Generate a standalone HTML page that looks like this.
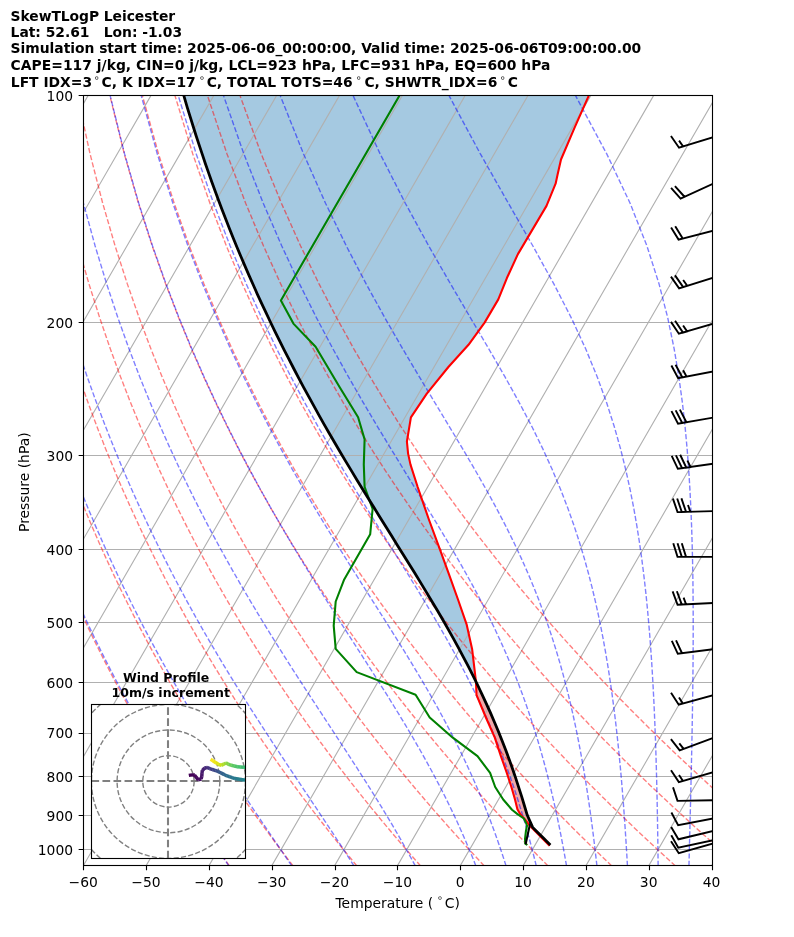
<!DOCTYPE html>
<html><head><meta charset="utf-8"><title>SkewTLogP Leicester</title>
<style>html,body{margin:0;padding:0;background:#fff}svg{display:block;will-change:transform}</style></head>
<body>
<svg width="794" height="937" viewBox="0 0 794 937" style="display:block">
<rect width="794" height="937" fill="#fff"/>
<defs><clipPath id="ax"><rect x="83.5" y="95.5" width="629.0" height="770.0"/></clipPath><clipPath id="in"><rect x="91.5" y="704.5" width="154" height="154"/></clipPath></defs>
<g clip-path="url(#ax)">
<path d="M183.6 95.0 L183.8 95.5 L183.9 96.0 L184.1 96.5 L184.2 97.0 L184.4 97.5 L184.5 98.0 L184.7 98.5 L184.8 99.0 L185.0 99.5 L185.1 100.0 L185.2 100.5 L185.4 101.0 L185.5 101.5 L185.7 102.0 L185.8 102.5 L186.0 103.0 L186.1 103.5 L186.3 104.0 L186.4 104.5 L186.6 105.0 L186.7 105.5 L186.9 106.0 L187.0 106.5 L187.2 107.0 L187.3 107.5 L187.5 108.0 L187.6 108.5 L187.8 109.0 L187.9 109.5 L188.1 110.0 L188.2 110.5 L188.4 111.0 L188.5 111.5 L188.7 112.0 L188.8 112.5 L189.0 113.0 L189.1 113.5 L189.3 114.0 L189.4 114.5 L189.6 115.0 L189.8 115.5 L189.9 116.0 L190.1 116.5 L190.2 117.0 L190.4 117.5 L190.5 118.0 L190.7 118.5 L190.8 119.0 L191.0 119.5 L191.1 120.0 L191.3 120.5 L191.4 121.0 L191.6 121.5 L191.8 122.0 L191.9 122.5 L192.1 123.0 L192.2 123.5 L192.4 124.0 L192.5 124.5 L192.7 125.0 L192.8 125.5 L193.0 126.0 L193.2 126.5 L193.3 127.0 L193.5 127.5 L193.6 128.0 L193.8 128.5 L194.0 129.0 L194.1 129.5 L194.3 130.0 L194.4 130.5 L194.6 131.0 L194.7 131.5 L194.9 132.0 L195.1 132.5 L195.2 133.0 L195.4 133.5 L195.5 134.0 L195.7 134.5 L195.9 135.0 L196.0 135.5 L196.2 136.0 L196.3 136.5 L196.5 137.0 L196.7 137.5 L196.8 138.0 L197.0 138.5 L197.2 139.0 L197.3 139.5 L197.5 140.0 L197.6 140.5 L197.8 141.0 L198.0 141.5 L198.1 142.0 L198.3 142.5 L198.5 143.0 L198.6 143.5 L198.8 144.0 L198.9 144.5 L199.1 145.0 L199.3 145.5 L199.4 146.0 L199.6 146.5 L199.8 147.0 L199.9 147.5 L200.1 148.0 L200.3 148.5 L200.4 149.0 L200.6 149.5 L200.8 150.0 L200.9 150.5 L201.1 151.0 L201.3 151.5 L201.4 152.0 L201.6 152.5 L201.8 153.0 L201.9 153.5 L202.1 154.0 L202.3 154.5 L202.4 155.0 L202.6 155.5 L202.8 156.0 L203.0 156.5 L203.1 157.0 L203.3 157.5 L203.5 158.0 L203.6 158.5 L203.8 159.0 L204.0 159.5 L204.1 160.0 L204.3 160.5 L204.5 161.0 L204.7 161.5 L204.8 162.0 L205.0 162.5 L205.2 163.0 L205.3 163.5 L205.5 164.0 L205.7 164.5 L205.9 165.0 L206.0 165.5 L206.2 166.0 L206.4 166.5 L206.5 167.0 L206.7 167.5 L206.9 168.0 L207.1 168.5 L207.2 169.0 L207.4 169.5 L207.6 169.9 L207.8 170.4 L207.9 170.9 L208.1 171.4 L208.3 171.9 L208.5 172.4 L208.6 172.9 L208.8 173.4 L209.0 173.9 L209.2 174.4 L209.3 174.9 L209.5 175.4 L209.7 175.9 L209.9 176.4 L210.1 176.9 L210.2 177.4 L210.4 177.9 L210.6 178.4 L210.8 178.9 L210.9 179.4 L211.1 179.9 L211.3 180.4 L211.5 180.9 L211.7 181.4 L211.8 181.9 L212.0 182.4 L212.2 182.9 L212.4 183.4 L212.6 183.9 L212.7 184.4 L212.9 184.9 L213.1 185.4 L213.3 185.9 L213.5 186.4 L213.6 186.9 L213.8 187.4 L214.0 187.9 L214.2 188.4 L214.4 188.9 L214.5 189.4 L214.7 189.9 L214.9 190.4 L215.1 190.9 L215.3 191.4 L215.5 191.9 L215.6 192.4 L215.8 192.9 L216.0 193.4 L216.2 193.9 L216.4 194.4 L216.6 194.9 L216.8 195.4 L216.9 195.9 L217.1 196.4 L217.3 196.9 L217.5 197.4 L217.7 197.9 L217.9 198.4 L218.0 198.9 L218.2 199.4 L218.4 199.9 L218.6 200.4 L218.8 200.9 L219.0 201.4 L219.2 201.9 L219.4 202.4 L219.5 202.9 L219.7 203.4 L219.9 203.9 L220.1 204.4 L220.3 204.9 L220.5 205.4 L220.7 205.9 L220.9 206.4 L221.1 206.9 L221.2 207.4 L221.4 207.9 L221.6 208.4 L221.8 208.9 L222.0 209.4 L222.2 209.9 L222.4 210.4 L222.6 210.9 L222.8 211.4 L223.0 211.9 L223.2 212.4 L223.3 212.9 L223.5 213.4 L223.7 213.9 L223.9 214.4 L224.1 214.9 L224.3 215.4 L224.5 215.9 L224.7 216.4 L224.9 216.9 L225.1 217.4 L225.3 217.9 L225.5 218.4 L225.7 218.9 L225.9 219.4 L226.1 219.9 L226.2 220.4 L226.4 220.9 L226.6 221.4 L226.8 221.9 L227.0 222.4 L227.2 222.9 L227.4 223.4 L227.6 223.9 L227.8 224.4 L228.0 224.9 L228.2 225.4 L228.4 225.9 L228.6 226.4 L228.8 226.9 L229.0 227.4 L229.2 227.9 L229.4 228.4 L229.6 228.9 L229.8 229.4 L230.0 229.9 L230.2 230.4 L230.4 230.9 L230.6 231.4 L230.8 231.9 L231.0 232.4 L231.2 232.9 L231.4 233.4 L231.6 233.9 L231.8 234.4 L232.0 234.9 L232.2 235.4 L232.4 235.9 L232.6 236.4 L232.8 236.9 L233.0 237.4 L233.2 237.9 L233.4 238.4 L233.6 238.9 L233.8 239.4 L234.0 239.9 L234.2 240.4 L234.4 240.9 L234.6 241.4 L234.8 241.9 L235.1 242.4 L235.3 242.9 L235.5 243.4 L235.7 243.9 L235.9 244.4 L236.1 244.9 L236.3 245.4 L236.5 245.9 L236.7 246.4 L236.9 246.9 L237.1 247.4 L237.3 247.9 L237.5 248.4 L237.7 248.9 L237.9 249.4 L238.1 249.9 L238.4 250.4 L238.6 250.9 L238.8 251.4 L239.0 251.9 L239.2 252.4 L239.4 252.9 L239.6 253.4 L239.8 253.9 L240.0 254.4 L240.2 254.9 L240.4 255.4 L240.6 255.9 L240.9 256.4 L241.1 256.9 L241.3 257.4 L241.5 257.9 L241.7 258.4 L241.9 258.9 L242.1 259.4 L242.3 259.9 L242.6 260.4 L242.8 260.9 L243.0 261.4 L243.2 261.9 L243.4 262.4 L243.6 262.9 L243.8 263.4 L244.0 263.9 L244.3 264.4 L244.5 264.9 L244.7 265.4 L244.9 265.9 L245.1 266.4 L245.3 266.9 L245.5 267.4 L245.8 267.9 L246.0 268.4 L246.2 268.9 L246.4 269.4 L246.6 269.9 L246.8 270.4 L247.1 270.9 L247.3 271.4 L247.5 271.9 L247.7 272.4 L247.9 272.9 L248.1 273.4 L248.4 273.9 L248.6 274.4 L248.8 274.9 L249.0 275.4 L249.2 275.9 L249.5 276.4 L249.7 276.9 L249.9 277.4 L250.1 277.9 L250.3 278.4 L250.6 278.9 L250.8 279.4 L251.0 279.9 L251.2 280.4 L251.4 280.9 L251.7 281.4 L251.9 281.9 L252.1 282.4 L252.3 282.9 L252.5 283.4 L252.8 283.9 L253.0 284.4 L253.2 284.9 L253.4 285.4 L253.7 285.9 L253.9 286.4 L254.1 286.9 L254.3 287.4 L254.6 287.9 L254.8 288.4 L255.0 288.9 L255.2 289.4 L255.5 289.9 L255.7 290.4 L255.9 290.9 L256.1 291.4 L256.4 291.9 L256.6 292.4 L256.8 292.9 L257.0 293.4 L257.3 293.9 L257.5 294.4 L257.7 294.9 L258.0 295.4 L258.2 295.9 L258.4 296.4 L258.6 296.9 L258.9 297.4 L259.1 297.9 L259.3 298.4 L259.6 298.9 L259.8 299.4 L260.0 299.9 L260.2 300.4 L260.5 300.9 L260.7 301.4 L260.9 301.9 L261.2 302.4 L261.4 302.9 L261.6 303.4 L261.9 303.9 L262.1 304.4 L262.3 304.9 L262.6 305.4 L262.8 305.9 L263.0 306.4 L263.3 306.9 L263.5 307.4 L263.7 307.9 L264.0 308.4 L264.2 308.9 L264.4 309.4 L264.7 309.9 L264.9 310.4 L265.1 310.9 L265.3 311.4 L265.6 311.9 L265.8 312.4 L266.1 312.9 L266.3 313.4 L266.5 313.9 L266.8 314.4 L267.0 314.9 L267.2 315.4 L267.5 315.9 L267.7 316.4 L268.0 316.9 L268.2 317.4 L268.4 317.9 L268.7 318.4 L268.9 318.9 L269.1 319.4 L269.4 319.8 L269.6 320.3 L269.9 320.8 L270.1 321.3 L270.3 321.8 L270.6 322.3 L270.8 322.8 L271.0 323.3 L271.3 323.8 L271.5 324.3 L271.8 324.8 L272.0 325.3 L272.3 325.8 L272.5 326.3 L272.7 326.8 L273.0 327.3 L273.2 327.8 L273.5 328.3 L273.7 328.8 L273.9 329.3 L274.2 329.8 L274.4 330.3 L274.7 330.8 L274.9 331.3 L275.2 331.8 L275.4 332.3 L275.7 332.8 L275.9 333.3 L276.1 333.8 L276.4 334.3 L276.6 334.8 L276.9 335.3 L277.1 335.8 L277.4 336.3 L277.6 336.8 L277.9 337.3 L278.1 337.8 L278.4 338.3 L278.6 338.8 L278.9 339.3 L279.1 339.8 L279.3 340.3 L279.6 340.8 L279.8 341.3 L280.1 341.8 L280.3 342.3 L280.6 342.8 L280.8 343.3 L281.1 343.8 L281.3 344.3 L281.6 344.8 L281.8 345.3 L282.1 345.8 L282.3 346.3 L282.6 346.8 L282.8 347.3 L283.1 347.8 L283.3 348.3 L283.6 348.8 L283.8 349.3 L284.1 349.8 L284.3 350.3 L284.6 350.8 L284.9 351.3 L285.1 351.8 L285.4 352.3 L285.6 352.8 L285.9 353.3 L286.1 353.8 L286.4 354.3 L286.6 354.8 L286.9 355.3 L287.1 355.8 L287.4 356.3 L287.6 356.8 L287.9 357.3 L288.2 357.8 L288.4 358.3 L288.7 358.8 L288.9 359.3 L289.2 359.8 L289.4 360.3 L289.7 360.8 L290.0 361.3 L290.2 361.8 L290.5 362.3 L290.7 362.8 L291.0 363.3 L291.2 363.8 L291.5 364.3 L291.8 364.8 L292.0 365.3 L292.3 365.8 L292.5 366.3 L292.8 366.8 L293.1 367.3 L293.3 367.8 L293.6 368.3 L293.8 368.8 L294.1 369.3 L294.4 369.8 L294.6 370.3 L294.9 370.8 L295.1 371.3 L295.4 371.8 L295.7 372.3 L295.9 372.8 L296.2 373.3 L296.5 373.8 L296.7 374.3 L297.0 374.8 L297.2 375.3 L297.5 375.8 L297.8 376.3 L298.0 376.8 L298.3 377.3 L298.6 377.8 L298.8 378.3 L299.1 378.8 L299.4 379.3 L299.6 379.8 L299.9 380.3 L300.2 380.8 L300.4 381.3 L300.7 381.8 L301.0 382.3 L301.2 382.8 L301.5 383.3 L301.8 383.8 L302.0 384.3 L302.3 384.8 L302.6 385.3 L302.8 385.8 L303.1 386.3 L303.4 386.8 L303.6 387.3 L303.9 387.8 L304.2 388.3 L304.4 388.8 L304.7 389.3 L305.0 389.8 L305.2 390.3 L305.5 390.8 L305.8 391.3 L306.1 391.8 L306.3 392.3 L306.6 392.8 L306.9 393.3 L307.1 393.8 L307.4 394.3 L307.7 394.8 L308.0 395.3 L308.2 395.8 L308.5 396.3 L308.8 396.8 L309.0 397.3 L309.3 397.8 L309.6 398.3 L309.9 398.8 L310.1 399.3 L310.4 399.8 L310.7 400.3 L311.0 400.8 L311.2 401.3 L311.5 401.8 L311.8 402.3 L312.1 402.8 L312.3 403.3 L312.6 403.8 L312.9 404.3 L313.2 404.8 L313.4 405.3 L313.7 405.8 L314.0 406.3 L314.3 406.8 L314.6 407.3 L314.8 407.8 L315.1 408.3 L315.4 408.8 L315.7 409.3 L315.9 409.8 L316.2 410.3 L316.5 410.8 L316.8 411.3 L317.1 411.8 L317.3 412.3 L317.6 412.8 L317.9 413.3 L318.2 413.8 L318.5 414.3 L318.7 414.8 L319.0 415.3 L319.3 415.8 L319.6 416.3 L319.9 416.8 L320.1 417.3 L320.4 417.8 L320.7 418.3 L321.0 418.8 L321.3 419.3 L321.6 419.8 L321.8 420.3 L322.1 420.8 L322.4 421.3 L322.7 421.8 L323.0 422.3 L323.3 422.8 L323.5 423.3 L323.8 423.8 L324.1 424.3 L324.4 424.8 L324.7 425.3 L325.0 425.8 L325.2 426.3 L325.5 426.8 L325.8 427.3 L326.1 427.8 L326.4 428.3 L326.7 428.8 L327.0 429.3 L327.2 429.8 L327.5 430.3 L327.8 430.8 L328.1 431.3 L328.4 431.8 L328.7 432.3 L329.0 432.8 L329.3 433.3 L329.5 433.8 L329.8 434.3 L330.1 434.8 L330.4 435.3 L330.7 435.8 L331.0 436.3 L331.3 436.8 L331.6 437.3 L331.9 437.8 L332.1 438.3 L332.4 438.8 L332.7 439.3 L333.0 439.8 L333.3 440.3 L333.6 440.8 L333.9 441.3 L334.2 441.8 L334.5 442.3 L334.8 442.8 L335.0 443.3 L335.3 443.8 L335.6 444.3 L335.9 444.8 L336.2 445.3 L336.5 445.8 L336.8 446.3 L337.1 446.8 L337.4 447.3 L337.7 447.8 L338.0 448.3 L338.3 448.8 L338.6 449.3 L338.9 449.8 L339.2 450.3 L339.5 450.8 L339.7 451.3 L340.0 451.8 L340.3 452.3 L340.6 452.8 L340.9 453.3 L341.2 453.8 L341.5 454.3 L341.8 454.8 L342.1 455.3 L342.4 455.8 L342.7 456.3 L343.0 456.8 L343.3 457.3 L343.6 457.8 L343.9 458.3 L344.2 458.8 L344.5 459.3 L344.8 459.8 L345.1 460.3 L345.4 460.8 L345.7 461.3 L346.0 461.8 L346.3 462.3 L346.6 462.8 L346.9 463.3 L347.2 463.8 L347.5 464.3 L347.8 464.8 L348.1 465.3 L348.4 465.8 L348.7 466.3 L349.0 466.8 L349.3 467.3 L349.6 467.8 L349.9 468.3 L350.2 468.8 L350.5 469.3 L350.8 469.7 L351.1 470.2 L351.4 470.7 L351.7 471.2 L352.0 471.7 L352.3 472.2 L352.6 472.7 L352.9 473.2 L353.2 473.7 L353.5 474.2 L353.8 474.7 L354.1 475.2 L354.4 475.7 L354.7 476.2 L355.0 476.7 L355.3 477.2 L355.6 477.7 L355.9 478.2 L356.2 478.7 L356.5 479.2 L356.8 479.7 L357.1 480.2 L357.4 480.7 L357.7 481.2 L358.0 481.7 L358.3 482.2 L358.6 482.7 L358.9 483.2 L359.3 483.7 L359.6 484.2 L359.9 484.7 L360.2 485.2 L360.5 485.7 L360.8 486.2 L361.1 486.7 L361.4 487.2 L361.7 487.7 L362.0 488.2 L362.3 488.7 L362.6 489.2 L362.9 489.7 L363.2 490.2 L363.5 490.7 L363.8 491.2 L364.1 491.7 L364.5 492.2 L364.8 492.7 L365.1 493.2 L365.4 493.7 L365.7 494.2 L366.0 494.7 L366.3 495.2 L366.6 495.7 L366.9 496.2 L367.2 496.7 L367.5 497.2 L367.8 497.7 L368.1 498.2 L368.5 498.7 L368.8 499.2 L369.1 499.7 L369.4 500.2 L369.7 500.7 L370.0 501.2 L370.3 501.7 L370.6 502.2 L370.9 502.7 L371.2 503.2 L371.5 503.7 L371.9 504.2 L372.2 504.7 L372.5 505.2 L372.8 505.7 L373.1 506.2 L373.4 506.7 L373.7 507.2 L374.0 507.7 L374.3 508.2 L374.6 508.7 L374.9 509.2 L375.3 509.7 L375.6 510.2 L375.9 510.7 L376.2 511.2 L376.5 511.7 L376.8 512.2 L377.1 512.7 L377.4 513.2 L377.7 513.7 L378.1 514.2 L378.4 514.7 L378.7 515.2 L379.0 515.7 L379.3 516.2 L379.6 516.7 L379.9 517.2 L380.2 517.7 L380.5 518.2 L380.9 518.7 L381.2 519.2 L381.5 519.7 L381.8 520.2 L382.1 520.7 L382.4 521.2 L382.7 521.7 L383.0 522.2 L383.4 522.7 L383.7 523.2 L384.0 523.7 L384.3 524.2 L384.6 524.7 L384.9 525.2 L385.2 525.7 L385.5 526.2 L385.8 526.7 L386.2 527.2 L386.5 527.7 L386.8 528.2 L387.1 528.7 L387.4 529.2 L387.7 529.7 L388.0 530.2 L388.3 530.7 L388.7 531.2 L389.0 531.7 L389.3 532.2 L389.6 532.7 L389.9 533.2 L390.2 533.7 L390.5 534.2 L390.8 534.7 L391.2 535.2 L391.5 535.7 L391.8 536.2 L392.1 536.7 L392.4 537.2 L392.7 537.7 L393.0 538.2 L393.3 538.7 L393.7 539.2 L394.0 539.7 L394.3 540.2 L394.6 540.7 L394.9 541.2 L395.2 541.7 L395.5 542.2 L395.8 542.7 L396.2 543.2 L396.5 543.7 L396.8 544.2 L397.1 544.7 L397.4 545.2 L397.7 545.7 L398.0 546.2 L398.3 546.7 L398.7 547.2 L399.0 547.7 L399.3 548.2 L399.6 548.7 L399.9 549.2 L400.2 549.7 L400.5 550.2 L400.8 550.7 L401.1 551.2 L401.5 551.7 L401.8 552.2 L402.1 552.7 L402.4 553.2 L402.7 553.7 L403.0 554.2 L403.3 554.7 L403.6 555.2 L404.0 555.7 L404.3 556.2 L404.6 556.7 L404.9 557.2 L405.2 557.7 L405.5 558.2 L405.8 558.7 L406.1 559.2 L406.4 559.7 L406.8 560.2 L407.1 560.7 L407.4 561.2 L407.7 561.7 L408.0 562.2 L408.3 562.7 L408.6 563.2 L408.9 563.7 L409.2 564.2 L409.5 564.7 L409.9 565.2 L410.2 565.7 L410.5 566.2 L410.8 566.7 L411.1 567.2 L411.4 567.7 L411.7 568.2 L412.0 568.7 L412.3 569.2 L412.6 569.7 L412.9 570.2 L413.3 570.7 L413.6 571.2 L413.9 571.7 L414.2 572.2 L414.5 572.7 L414.8 573.2 L415.1 573.7 L415.4 574.2 L415.7 574.7 L416.0 575.2 L416.3 575.7 L416.6 576.2 L417.0 576.7 L417.3 577.2 L417.6 577.7 L417.9 578.2 L418.2 578.7 L418.5 579.2 L418.8 579.7 L419.1 580.2 L419.4 580.7 L419.7 581.2 L420.0 581.7 L420.3 582.2 L420.6 582.7 L420.9 583.2 L421.2 583.7 L421.5 584.2 L421.8 584.7 L422.2 585.2 L422.5 585.7 L422.8 586.2 L423.1 586.7 L423.4 587.2 L423.7 587.7 L424.0 588.2 L424.3 588.7 L424.6 589.2 L424.9 589.7 L425.2 590.2 L425.5 590.7 L425.8 591.2 L426.1 591.7 L426.4 592.2 L426.7 592.7 L427.0 593.2 L427.3 593.7 L427.6 594.2 L427.9 594.7 L428.2 595.2 L428.5 595.7 L428.8 596.2 L429.1 596.7 L429.4 597.2 L429.7 597.7 L430.0 598.2 L430.3 598.7 L430.6 599.2 L430.9 599.7 L431.2 600.2 L431.5 600.7 L431.8 601.2 L432.1 601.7 L432.4 602.2 L432.7 602.7 L433.0 603.2 L433.3 603.7 L433.6 604.2 L433.9 604.7 L434.2 605.2 L434.5 605.7 L434.8 606.2 L435.1 606.7 L435.4 607.2 L435.7 607.7 L436.0 608.2 L436.3 608.7 L436.6 609.2 L436.8 609.7 L437.1 610.2 L437.4 610.7 L437.7 611.2 L438.0 611.7 L438.3 612.2 L438.6 612.7 L438.9 613.2 L439.2 613.7 L439.5 614.2 L439.8 614.7 L440.1 615.2 L440.4 615.7 L440.6 616.2 L440.9 616.7 L441.2 617.2 L441.5 617.7 L441.8 618.2 L442.1 618.7 L442.4 619.2 L442.7 619.6 L443.0 620.1 L443.3 620.6 L443.5 621.1 L443.8 621.6 L444.1 622.1 L444.4 622.6 L444.7 623.1 L445.0 623.6 L445.3 624.1 L445.5 624.6 L445.8 625.1 L446.1 625.6 L446.4 626.1 L446.7 626.6 L447.0 627.1 L447.3 627.6 L447.6 628.1 L447.8 628.6 L448.1 629.1 L448.4 629.6 L448.7 630.1 L449.0 630.6 L449.2 631.1 L449.5 631.6 L449.8 632.1 L450.1 632.6 L450.4 633.1 L450.6 633.6 L450.9 634.1 L451.2 634.6 L451.5 635.1 L451.8 635.6 L452.1 636.1 L452.3 636.6 L452.6 637.1 L452.9 637.6 L453.2 638.1 L453.5 638.6 L453.7 639.1 L454.0 639.6 L454.3 640.1 L454.5 640.6 L454.8 641.1 L455.1 641.6 L455.4 642.1 L455.6 642.6 L455.9 643.1 L456.2 643.6 L456.5 644.1 L456.7 644.6 L457.0 645.1 L457.3 645.6 L457.6 646.1 L457.8 646.6 L458.1 647.1 L458.4 647.6 L458.7 648.1 L458.9 648.6 L459.2 649.1 L459.5 649.6 L459.7 650.1 L460.0 650.6 L460.3 651.1 L460.5 651.6 L460.8 652.1 L461.1 652.6 L461.3 653.1 L461.6 653.6 L461.9 654.1 L462.1 654.6 L462.4 655.1 L462.7 655.6 L462.9 656.1 L463.2 656.6 L463.5 657.1 L463.7 657.6 L464.0 658.1 L464.3 658.6 L464.5 659.1 L464.8 659.6 L465.0 660.1 L465.3 660.6 L465.6 661.1 L465.8 661.6 L466.1 662.1 L466.3 662.6 L466.6 663.1 L466.9 663.6 L467.1 664.1 L467.4 664.6 L467.6 665.1 L467.9 665.6 L468.2 666.1 L468.4 666.6 L468.7 667.1 L468.9 667.6 L469.2 668.1 L469.4 668.6 L469.7 669.1 L469.9 669.6 L470.2 670.1 L470.4 670.6 L470.7 671.1 L471.0 671.6 L471.2 672.1 L471.5 672.6 L471.7 673.1 L472.0 673.6 L472.2 674.1 L472.5 674.6 L472.7 675.1 L473.0 675.6 L473.2 676.1 L473.5 676.6 L473.7 677.1 L474.0 677.6 L474.2 678.1 L474.5 678.6 L474.7 679.1 L475.0 679.6 L475.2 680.1 L475.4 680.6 L475.7 681.1 L475.9 681.1 L475.8 680.6 L475.8 680.1 L475.7 679.6 L475.6 679.1 L475.6 678.6 L475.5 678.1 L475.5 677.6 L475.4 677.1 L475.3 676.6 L475.3 676.1 L475.2 675.6 L475.2 675.1 L475.1 674.6 L475.1 674.1 L475.0 673.6 L474.9 673.1 L474.9 672.6 L474.8 672.1 L474.8 671.6 L474.7 671.1 L474.6 670.6 L474.6 670.1 L474.5 669.6 L474.5 669.1 L474.4 668.6 L474.4 668.1 L474.3 667.6 L474.2 667.1 L474.2 666.6 L474.1 666.1 L474.1 665.6 L474.0 665.1 L473.9 664.6 L473.9 664.1 L473.8 663.6 L473.8 663.1 L473.7 662.6 L473.7 662.1 L473.6 661.6 L473.5 661.1 L473.5 660.6 L473.4 660.1 L473.4 659.6 L473.3 659.1 L473.2 658.6 L473.2 658.1 L473.1 657.6 L473.1 657.1 L473.0 656.6 L472.9 656.1 L472.9 655.6 L472.8 655.1 L472.8 654.6 L472.7 654.1 L472.7 653.6 L472.6 653.1 L472.5 652.6 L472.5 652.1 L472.4 651.6 L472.4 651.1 L472.3 650.6 L472.2 650.1 L472.2 649.6 L472.1 649.1 L472.0 648.6 L471.9 648.1 L471.8 647.6 L471.7 647.1 L471.6 646.6 L471.5 646.1 L471.4 645.6 L471.3 645.1 L471.1 644.6 L471.0 644.1 L470.9 643.6 L470.8 643.1 L470.7 642.6 L470.6 642.1 L470.5 641.6 L470.4 641.1 L470.3 640.6 L470.1 640.1 L470.0 639.6 L469.9 639.1 L469.8 638.6 L469.7 638.1 L469.6 637.6 L469.5 637.1 L469.4 636.6 L469.3 636.1 L469.1 635.6 L469.0 635.1 L468.9 634.6 L468.8 634.1 L468.7 633.6 L468.6 633.1 L468.5 632.6 L468.4 632.1 L468.2 631.6 L468.1 631.1 L468.0 630.6 L467.9 630.1 L467.8 629.6 L467.7 629.1 L467.6 628.6 L467.5 628.1 L467.4 627.6 L467.2 627.1 L467.1 626.6 L467.0 626.1 L466.9 625.6 L466.8 625.1 L466.7 624.6 L466.5 624.1 L466.3 623.6 L466.2 623.1 L466.0 622.6 L465.8 622.1 L465.6 621.6 L465.5 621.1 L465.3 620.6 L465.1 620.1 L465.0 619.6 L464.8 619.2 L464.6 618.7 L464.4 618.2 L464.3 617.7 L464.1 617.2 L463.9 616.7 L463.7 616.2 L463.6 615.7 L463.4 615.2 L463.2 614.7 L463.1 614.2 L462.9 613.7 L462.7 613.2 L462.5 612.7 L462.4 612.2 L462.2 611.7 L462.0 611.2 L461.9 610.7 L461.7 610.2 L461.5 609.7 L461.3 609.2 L461.2 608.7 L461.0 608.2 L460.8 607.7 L460.6 607.2 L460.5 606.7 L460.3 606.2 L460.1 605.7 L460.0 605.2 L459.8 604.7 L459.6 604.2 L459.4 603.7 L459.3 603.2 L459.1 602.7 L458.9 602.2 L458.7 601.7 L458.6 601.2 L458.4 600.7 L458.2 600.2 L458.1 599.7 L457.9 599.2 L457.7 598.7 L457.5 598.2 L457.3 597.7 L457.2 597.2 L457.0 596.7 L456.8 596.2 L456.6 595.7 L456.5 595.2 L456.3 594.7 L456.1 594.2 L455.9 593.7 L455.7 593.2 L455.6 592.7 L455.4 592.2 L455.2 591.7 L455.0 591.2 L454.8 590.7 L454.7 590.2 L454.5 589.7 L454.3 589.2 L454.1 588.7 L454.0 588.2 L453.8 587.7 L453.6 587.2 L453.4 586.7 L453.2 586.2 L453.1 585.7 L452.9 585.2 L452.7 584.7 L452.5 584.2 L452.3 583.7 L452.2 583.2 L452.0 582.7 L451.8 582.2 L451.6 581.7 L451.5 581.2 L451.3 580.7 L451.1 580.2 L450.9 579.7 L450.7 579.2 L450.6 578.7 L450.4 578.2 L450.2 577.7 L450.0 577.2 L449.8 576.7 L449.7 576.2 L449.5 575.7 L449.3 575.2 L449.1 574.7 L449.0 574.2 L448.8 573.7 L448.6 573.2 L448.4 572.7 L448.2 572.2 L448.0 571.7 L447.9 571.2 L447.7 570.7 L447.5 570.2 L447.3 569.7 L447.1 569.2 L446.9 568.7 L446.8 568.2 L446.6 567.7 L446.4 567.2 L446.2 566.7 L446.0 566.2 L445.8 565.7 L445.7 565.2 L445.5 564.7 L445.3 564.2 L445.1 563.7 L444.9 563.2 L444.7 562.7 L444.6 562.2 L444.4 561.7 L444.2 561.2 L444.0 560.7 L443.8 560.2 L443.6 559.7 L443.5 559.2 L443.3 558.7 L443.1 558.2 L442.9 557.7 L442.7 557.2 L442.5 556.7 L442.4 556.2 L442.2 555.7 L442.0 555.2 L441.8 554.7 L441.6 554.2 L441.4 553.7 L441.3 553.2 L441.1 552.7 L440.9 552.2 L440.7 551.7 L440.5 551.2 L440.3 550.7 L440.2 550.2 L440.0 549.7 L439.8 549.2 L439.6 548.7 L439.4 548.2 L439.2 547.7 L439.1 547.2 L438.9 546.7 L438.7 546.2 L438.5 545.7 L438.3 545.2 L438.1 544.7 L438.0 544.2 L437.8 543.7 L437.6 543.2 L437.4 542.7 L437.2 542.2 L437.0 541.7 L436.9 541.2 L436.7 540.7 L436.5 540.2 L436.3 539.7 L436.1 539.2 L435.9 538.7 L435.8 538.2 L435.6 537.7 L435.4 537.2 L435.2 536.7 L435.0 536.2 L434.8 535.7 L434.7 535.2 L434.5 534.7 L434.3 534.2 L434.1 533.7 L433.9 533.2 L433.7 532.7 L433.6 532.2 L433.4 531.7 L433.2 531.2 L433.0 530.7 L432.8 530.2 L432.6 529.7 L432.5 529.2 L432.3 528.7 L432.1 528.2 L431.9 527.7 L431.7 527.2 L431.5 526.7 L431.4 526.2 L431.2 525.7 L431.0 525.2 L430.8 524.7 L430.6 524.2 L430.4 523.7 L430.2 523.2 L430.1 522.7 L429.9 522.2 L429.7 521.7 L429.5 521.2 L429.3 520.7 L429.1 520.2 L429.0 519.7 L428.8 519.2 L428.6 518.7 L428.4 518.2 L428.3 517.7 L428.1 517.2 L427.9 516.7 L427.7 516.2 L427.6 515.7 L427.4 515.2 L427.2 514.7 L427.1 514.2 L426.9 513.7 L426.7 513.2 L426.5 512.7 L426.4 512.2 L426.2 511.7 L426.0 511.2 L425.8 510.7 L425.7 510.2 L425.5 509.7 L425.3 509.2 L425.2 508.7 L425.0 508.2 L424.8 507.7 L424.6 507.2 L424.5 506.7 L424.3 506.2 L424.1 505.7 L424.0 505.2 L423.8 504.7 L423.6 504.2 L423.4 503.7 L423.3 503.2 L423.1 502.7 L422.9 502.2 L422.7 501.7 L422.6 501.2 L422.4 500.7 L422.2 500.2 L422.1 499.7 L421.9 499.2 L421.7 498.7 L421.5 498.2 L421.4 497.7 L421.2 497.2 L421.0 496.7 L420.9 496.2 L420.7 495.7 L420.5 495.2 L420.3 494.7 L420.2 494.2 L420.0 493.7 L419.8 493.2 L419.6 492.7 L419.5 492.2 L419.3 491.7 L419.1 491.2 L419.0 490.7 L418.8 490.2 L418.6 489.7 L418.4 489.2 L418.3 488.7 L418.1 488.2 L417.9 487.7 L417.8 487.2 L417.6 486.7 L417.4 486.2 L417.3 485.7 L417.1 485.2 L416.9 484.7 L416.8 484.2 L416.6 483.7 L416.5 483.2 L416.3 482.7 L416.1 482.2 L416.0 481.7 L415.8 481.2 L415.7 480.7 L415.5 480.2 L415.3 479.7 L415.2 479.2 L415.0 478.7 L414.9 478.2 L414.7 477.7 L414.5 477.2 L414.4 476.7 L414.2 476.2 L414.1 475.7 L413.9 475.2 L413.7 474.7 L413.6 474.2 L413.4 473.7 L413.3 473.2 L413.1 472.7 L412.9 472.2 L412.8 471.7 L412.6 471.2 L412.5 470.7 L412.3 470.2 L412.1 469.7 L412.0 469.3 L411.8 468.8 L411.7 468.3 L411.5 467.8 L411.3 467.3 L411.2 466.8 L411.0 466.3 L410.9 465.8 L410.7 465.3 L410.5 464.8 L410.4 464.3 L410.3 463.8 L410.2 463.3 L410.1 462.8 L410.0 462.3 L409.9 461.8 L409.8 461.3 L409.7 460.8 L409.6 460.3 L409.4 459.8 L409.3 459.3 L409.2 458.8 L409.1 458.3 L409.0 457.8 L408.9 457.3 L408.8 456.8 L408.7 456.3 L408.6 455.8 L408.5 455.3 L408.4 454.8 L408.2 454.3 L408.1 453.8 L408.1 453.3 L408.0 452.8 L408.0 452.3 L407.9 451.8 L407.9 451.3 L407.8 450.8 L407.8 450.3 L407.7 449.8 L407.7 449.3 L407.6 448.8 L407.6 448.3 L407.5 447.8 L407.5 447.3 L407.4 446.8 L407.4 446.3 L407.3 445.8 L407.3 445.3 L407.2 444.8 L407.2 444.3 L407.1 443.8 L407.1 443.3 L407.0 442.8 L407.0 442.3 L406.9 441.8 L406.9 441.3 L407.0 440.8 L407.1 440.3 L407.2 439.8 L407.3 439.3 L407.4 438.8 L407.4 438.3 L407.5 437.8 L407.6 437.3 L407.7 436.8 L407.8 436.3 L407.9 435.8 L408.0 435.3 L408.0 434.8 L408.1 434.3 L408.2 433.8 L408.3 433.3 L408.4 432.8 L408.4 432.3 L408.5 431.8 L408.6 431.3 L408.7 430.8 L408.8 430.3 L408.9 429.8 L408.9 429.3 L409.0 428.8 L409.1 428.3 L409.2 427.8 L409.3 427.3 L409.3 426.8 L409.4 426.3 L409.5 425.8 L409.6 425.3 L409.7 424.8 L409.8 424.3 L409.8 423.8 L409.9 423.3 L410.0 422.8 L410.1 422.3 L410.2 421.8 L410.2 421.3 L410.3 420.8 L410.4 420.3 L410.5 419.8 L410.6 419.3 L410.7 418.8 L410.7 418.3 L410.8 417.8 L410.9 417.3 L411.2 416.8 L411.6 416.3 L411.9 415.8 L412.3 415.3 L412.6 414.8 L412.9 414.3 L413.3 413.8 L413.6 413.3 L413.9 412.8 L414.3 412.3 L414.6 411.8 L414.9 411.3 L415.3 410.8 L415.6 410.3 L415.9 409.8 L416.3 409.3 L416.6 408.8 L416.9 408.3 L417.3 407.8 L417.6 407.3 L417.9 406.8 L418.3 406.3 L418.6 405.8 L419.0 405.3 L419.3 404.8 L419.6 404.3 L420.0 403.8 L420.3 403.3 L420.6 402.8 L421.0 402.3 L421.3 401.8 L421.6 401.3 L422.0 400.8 L422.3 400.3 L422.6 399.8 L423.0 399.3 L423.3 398.8 L423.6 398.3 L424.0 397.8 L424.3 397.3 L424.7 396.8 L425.0 396.3 L425.3 395.8 L425.7 395.3 L426.0 394.8 L426.3 394.3 L426.7 393.8 L427.0 393.3 L427.4 392.8 L427.9 392.3 L428.3 391.8 L428.7 391.3 L429.1 390.8 L429.5 390.3 L429.9 389.8 L430.3 389.3 L430.7 388.8 L431.1 388.3 L431.5 387.8 L431.9 387.3 L432.3 386.8 L432.7 386.3 L433.1 385.8 L433.5 385.3 L433.9 384.8 L434.3 384.3 L434.8 383.8 L435.2 383.3 L435.6 382.8 L436.0 382.3 L436.4 381.8 L436.8 381.3 L437.2 380.8 L437.6 380.3 L438.0 379.8 L438.4 379.3 L438.8 378.8 L439.2 378.3 L439.6 377.8 L440.0 377.3 L440.4 376.8 L440.8 376.3 L441.2 375.8 L441.6 375.3 L442.1 374.8 L442.5 374.3 L442.9 373.8 L443.3 373.3 L443.7 372.8 L444.1 372.3 L444.5 371.8 L444.9 371.3 L445.3 370.8 L445.7 370.3 L446.1 369.8 L446.5 369.3 L446.9 368.8 L447.3 368.3 L447.7 367.8 L448.1 367.3 L448.6 366.8 L449.0 366.3 L449.5 365.8 L449.9 365.3 L450.4 364.8 L450.8 364.3 L451.3 363.8 L451.7 363.3 L452.2 362.8 L452.6 362.3 L453.1 361.8 L453.5 361.3 L454.0 360.8 L454.4 360.3 L454.9 359.8 L455.4 359.3 L455.8 358.8 L456.3 358.3 L456.7 357.8 L457.2 357.3 L457.6 356.8 L458.1 356.3 L458.5 355.8 L459.0 355.3 L459.4 354.8 L459.9 354.3 L460.3 353.8 L460.8 353.3 L461.2 352.8 L461.7 352.3 L462.1 351.8 L462.6 351.3 L463.0 350.8 L463.5 350.3 L463.9 349.8 L464.4 349.3 L464.9 348.8 L465.3 348.3 L465.8 347.8 L466.2 347.3 L466.7 346.8 L467.1 346.3 L467.6 345.8 L468.0 345.3 L468.5 344.8 L468.8 344.3 L469.2 343.8 L469.6 343.3 L469.9 342.8 L470.3 342.3 L470.7 341.8 L471.0 341.3 L471.4 340.8 L471.7 340.3 L472.1 339.8 L472.5 339.3 L472.8 338.8 L473.2 338.3 L473.5 337.8 L473.9 337.3 L474.3 336.8 L474.6 336.3 L475.0 335.8 L475.4 335.3 L475.7 334.8 L476.1 334.3 L476.4 333.8 L476.8 333.3 L477.2 332.8 L477.5 332.3 L477.9 331.8 L478.3 331.3 L478.6 330.8 L479.0 330.3 L479.3 329.8 L479.7 329.3 L480.1 328.8 L480.4 328.3 L480.8 327.8 L481.2 327.3 L481.5 326.8 L481.9 326.3 L482.2 325.8 L482.6 325.3 L483.0 324.8 L483.3 324.3 L483.7 323.8 L484.1 323.3 L484.4 322.8 L484.7 322.3 L485.0 321.8 L485.3 321.3 L485.6 320.8 L485.9 320.3 L486.2 319.8 L486.5 319.4 L486.8 318.9 L487.1 318.4 L487.4 317.9 L487.7 317.4 L488.0 316.9 L488.3 316.4 L488.6 315.9 L488.9 315.4 L489.2 314.9 L489.5 314.4 L489.8 313.9 L490.1 313.4 L490.4 312.9 L490.6 312.4 L490.9 311.9 L491.2 311.4 L491.5 310.9 L491.8 310.4 L492.1 309.9 L492.4 309.4 L492.7 308.9 L493.0 308.4 L493.3 307.9 L493.6 307.4 L493.9 306.9 L494.2 306.4 L494.5 305.9 L494.8 305.4 L495.1 304.9 L495.4 304.4 L495.7 303.9 L496.0 303.4 L496.3 302.9 L496.6 302.4 L496.8 301.9 L497.1 301.4 L497.4 300.9 L497.7 300.4 L498.0 299.9 L498.3 299.4 L498.5 298.9 L498.7 298.4 L498.9 297.9 L499.1 297.4 L499.3 296.9 L499.5 296.4 L499.7 295.9 L499.9 295.4 L500.1 294.9 L500.3 294.4 L500.5 293.9 L500.7 293.4 L500.9 292.9 L501.1 292.4 L501.3 291.9 L501.5 291.4 L501.7 290.9 L501.9 290.4 L502.1 289.9 L502.3 289.4 L502.5 288.9 L502.7 288.4 L502.9 287.9 L503.1 287.4 L503.3 286.9 L503.5 286.4 L503.7 285.9 L504.0 285.4 L504.2 284.9 L504.4 284.4 L504.6 283.9 L504.8 283.4 L505.0 282.9 L505.2 282.4 L505.4 281.9 L505.6 281.4 L505.8 280.9 L506.0 280.4 L506.2 279.9 L506.4 279.4 L506.6 278.9 L506.8 278.4 L507.0 277.9 L507.2 277.4 L507.5 276.9 L507.7 276.4 L507.9 275.9 L508.1 275.4 L508.4 274.9 L508.6 274.4 L508.8 273.9 L509.1 273.4 L509.3 272.9 L509.5 272.4 L509.7 271.9 L510.0 271.4 L510.2 270.9 L510.4 270.4 L510.7 269.9 L510.9 269.4 L511.1 268.9 L511.3 268.4 L511.6 267.9 L511.8 267.4 L512.0 266.9 L512.3 266.4 L512.5 265.9 L512.7 265.4 L513.0 264.9 L513.2 264.4 L513.4 263.9 L513.6 263.4 L513.9 262.9 L514.1 262.4 L514.3 261.9 L514.6 261.4 L514.8 260.9 L515.0 260.4 L515.2 259.9 L515.5 259.4 L515.7 258.9 L515.9 258.4 L516.2 257.9 L516.4 257.4 L516.6 256.9 L516.8 256.4 L517.1 255.9 L517.3 255.4 L517.5 254.9 L517.8 254.4 L518.0 253.9 L518.3 253.4 L518.6 252.9 L518.9 252.4 L519.2 251.9 L519.5 251.4 L519.8 250.9 L520.1 250.4 L520.4 249.9 L520.7 249.4 L521.0 248.9 L521.3 248.4 L521.6 247.9 L521.9 247.4 L522.2 246.9 L522.5 246.4 L522.8 245.9 L523.1 245.4 L523.4 244.9 L523.7 244.4 L524.0 243.9 L524.2 243.4 L524.5 242.9 L524.8 242.4 L525.1 241.9 L525.4 241.4 L525.7 240.9 L526.0 240.4 L526.3 239.9 L526.6 239.4 L526.9 238.9 L527.2 238.4 L527.5 237.9 L527.8 237.4 L528.1 236.9 L528.4 236.4 L528.7 235.9 L529.0 235.4 L529.3 234.9 L529.6 234.4 L529.9 233.9 L530.2 233.4 L530.5 232.9 L530.8 232.4 L531.1 231.9 L531.4 231.4 L531.7 230.9 L532.0 230.4 L532.3 229.9 L532.5 229.4 L532.8 228.9 L533.1 228.4 L533.4 227.9 L533.7 227.4 L534.0 226.9 L534.3 226.4 L534.6 225.9 L534.9 225.4 L535.2 224.9 L535.5 224.4 L535.8 223.9 L536.1 223.4 L536.4 222.9 L536.7 222.4 L537.0 221.9 L537.3 221.4 L537.6 220.9 L537.9 220.4 L538.2 219.9 L538.5 219.4 L538.8 218.9 L539.1 218.4 L539.4 217.9 L539.7 217.4 L540.0 216.9 L540.3 216.4 L540.6 215.9 L540.9 215.4 L541.1 214.9 L541.4 214.4 L541.7 213.9 L542.0 213.4 L542.3 212.9 L542.6 212.4 L542.9 211.9 L543.2 211.4 L543.5 210.9 L543.8 210.4 L544.1 209.9 L544.4 209.4 L544.7 208.9 L545.0 208.4 L545.3 207.9 L545.6 207.4 L545.9 206.9 L546.2 206.4 L546.5 205.9 L546.7 205.4 L546.9 204.9 L547.1 204.4 L547.3 203.9 L547.5 203.4 L547.7 202.9 L547.9 202.4 L548.1 201.9 L548.3 201.4 L548.5 200.9 L548.7 200.4 L548.9 199.9 L549.2 199.4 L549.4 198.9 L549.6 198.4 L549.8 197.9 L550.0 197.4 L550.2 196.9 L550.4 196.4 L550.6 195.9 L550.8 195.4 L551.0 194.9 L551.2 194.4 L551.4 193.9 L551.6 193.4 L551.8 192.9 L552.0 192.4 L552.2 191.9 L552.4 191.4 L552.6 190.9 L552.8 190.4 L553.0 189.9 L553.2 189.4 L553.5 188.9 L553.7 188.4 L553.9 187.9 L554.1 187.4 L554.3 186.9 L554.5 186.4 L554.7 185.9 L554.9 185.4 L555.1 184.9 L555.3 184.4 L555.5 183.9 L555.7 183.4 L555.8 182.9 L555.9 182.4 L556.0 181.9 L556.1 181.4 L556.2 180.9 L556.3 180.4 L556.4 179.9 L556.5 179.4 L556.6 178.9 L556.8 178.4 L556.9 177.9 L557.0 177.4 L557.1 176.9 L557.2 176.4 L557.3 175.9 L557.4 175.4 L557.5 174.9 L557.6 174.4 L557.7 173.9 L557.9 173.4 L558.0 172.9 L558.1 172.4 L558.2 171.9 L558.3 171.4 L558.4 170.9 L558.5 170.4 L558.6 169.9 L558.8 169.5 L558.9 169.0 L559.0 168.5 L559.1 168.0 L559.2 167.5 L559.3 167.0 L559.4 166.5 L559.5 166.0 L559.7 165.5 L559.8 165.0 L559.9 164.5 L560.0 164.0 L560.1 163.5 L560.2 163.0 L560.3 162.5 L560.4 162.0 L560.6 161.5 L560.7 161.0 L560.8 160.5 L560.9 160.0 L561.0 159.5 L561.2 159.0 L561.4 158.5 L561.7 158.0 L561.9 157.5 L562.1 157.0 L562.3 156.5 L562.5 156.0 L562.7 155.5 L562.9 155.0 L563.1 154.5 L563.4 154.0 L563.6 153.5 L563.8 153.0 L564.0 152.5 L564.2 152.0 L564.4 151.5 L564.6 151.0 L564.8 150.5 L565.1 150.0 L565.3 149.5 L565.5 149.0 L565.7 148.5 L565.9 148.0 L566.1 147.5 L566.3 147.0 L566.5 146.5 L566.8 146.0 L567.0 145.5 L567.2 145.0 L567.4 144.5 L567.6 144.0 L567.8 143.5 L568.0 143.0 L568.2 142.5 L568.5 142.0 L568.7 141.5 L568.9 141.0 L569.1 140.5 L569.3 140.0 L569.5 139.5 L569.7 139.0 L569.9 138.5 L570.2 138.0 L570.4 137.5 L570.6 137.0 L570.8 136.5 L571.0 136.0 L571.2 135.5 L571.4 135.0 L571.6 134.5 L571.9 134.0 L572.1 133.5 L572.3 133.0 L572.5 132.5 L572.7 132.0 L572.9 131.5 L573.1 131.0 L573.3 130.5 L573.6 130.0 L573.8 129.5 L574.0 129.0 L574.2 128.5 L574.4 128.0 L574.6 127.5 L574.8 127.0 L575.1 126.5 L575.3 126.0 L575.5 125.5 L575.7 125.0 L576.0 124.5 L576.2 124.0 L576.4 123.5 L576.6 123.0 L576.8 122.5 L577.1 122.0 L577.3 121.5 L577.5 121.0 L577.7 120.5 L578.0 120.0 L578.2 119.5 L578.4 119.0 L578.6 118.5 L578.8 118.0 L579.1 117.5 L579.3 117.0 L579.5 116.5 L579.7 116.0 L580.0 115.5 L580.2 115.0 L580.4 114.5 L580.6 114.0 L580.8 113.5 L581.1 113.0 L581.3 112.5 L581.5 112.0 L581.7 111.5 L582.0 111.0 L582.2 110.5 L582.4 110.0 L582.6 109.5 L582.8 109.0 L583.1 108.5 L583.3 108.0 L583.5 107.5 L583.7 107.0 L584.0 106.5 L584.2 106.0 L584.4 105.5 L584.6 105.0 L584.8 104.5 L585.1 104.0 L585.3 103.5 L585.5 103.0 L585.7 102.5 L586.0 102.0 L586.2 101.5 L586.4 101.0 L586.6 100.5 L586.9 100.0 L587.1 99.5 L587.3 99.0 L587.5 98.5 L587.7 98.0 L588.0 97.5 L588.2 97.0 L588.4 96.5 L588.6 96.0 L588.9 95.5 L589.1 95.0 Z" fill="#1f77b4" fill-opacity="0.4"/>
<path d="M475.9 681.6 L476.2 682.1 L476.4 682.6 L476.7 683.1 L476.9 683.6 L477.2 684.1 L477.4 684.6 L477.7 685.1 L477.9 685.6 L478.1 686.1 L478.4 686.6 L478.6 687.1 L478.8 687.6 L479.1 688.1 L479.3 688.6 L479.6 689.1 L479.8 689.6 L480.0 690.1 L480.3 690.6 L480.5 691.1 L480.8 691.6 L481.0 692.1 L481.2 692.6 L481.5 693.1 L481.7 693.6 L481.9 694.1 L482.2 694.6 L482.4 695.1 L482.6 695.6 L482.9 696.1 L483.1 696.6 L483.3 697.1 L483.6 697.6 L483.8 698.1 L484.0 698.6 L484.3 699.1 L484.5 699.6 L484.7 700.1 L485.0 700.6 L485.2 701.1 L485.4 701.6 L485.6 702.1 L485.9 702.6 L486.1 703.1 L486.3 703.6 L486.6 704.1 L486.8 704.6 L487.0 705.1 L487.2 705.6 L487.5 706.1 L487.7 706.6 L487.9 707.1 L488.1 707.6 L488.3 708.1 L488.6 708.6 L488.8 709.1 L489.0 709.6 L489.2 710.1 L489.5 710.6 L489.7 711.1 L489.9 711.6 L490.1 712.1 L490.4 712.6 L490.6 713.1 L490.8 713.6 L491.0 714.1 L491.2 714.6 L491.4 715.1 L491.6 715.6 L491.9 716.1 L492.1 716.6 L492.3 717.1 L492.5 717.6 L492.7 718.1 L492.9 718.6 L493.2 719.1 L493.4 719.6 L493.6 720.1 L493.8 720.6 L494.0 721.1 L494.2 721.6 L494.4 722.1 L494.7 722.6 L494.9 723.1 L495.1 723.6 L495.3 724.1 L495.5 724.6 L495.7 725.1 L495.9 725.6 L496.1 726.1 L496.3 726.6 L496.5 727.1 L496.7 727.6 L496.9 728.1 L497.2 728.6 L497.4 729.1 L497.6 729.6 L497.8 730.1 L498.0 730.6 L498.2 731.1 L498.4 731.6 L498.6 732.1 L498.8 732.6 L499.0 733.1 L499.2 733.6 L499.4 734.1 L499.6 734.6 L499.8 735.1 L500.0 735.6 L500.2 736.1 L500.4 736.6 L500.6 737.1 L500.8 737.6 L501.0 738.1 L501.2 738.6 L501.4 739.1 L501.6 739.6 L501.8 740.1 L502.0 740.6 L502.2 741.1 L502.4 741.6 L502.6 742.1 L502.8 742.6 L503.0 743.1 L503.2 743.6 L503.4 744.1 L503.5 744.6 L503.7 745.1 L503.9 745.6 L504.1 746.1 L504.3 746.6 L504.5 747.1 L504.7 747.6 L504.9 748.1 L505.1 748.6 L505.3 749.1 L505.5 749.6 L505.7 750.1 L505.9 750.6 L506.0 751.1 L506.2 751.6 L506.4 752.1 L506.6 752.6 L506.8 753.1 L507.0 753.6 L507.2 754.1 L507.3 754.6 L507.5 755.1 L507.7 755.6 L507.9 756.1 L508.1 756.6 L508.3 757.1 L508.5 757.6 L508.6 758.1 L508.8 758.6 L509.0 759.1 L509.2 759.6 L509.4 760.1 L509.5 760.6 L509.7 761.1 L509.9 761.6 L510.1 762.1 L510.3 762.6 L510.4 763.1 L510.6 763.6 L510.8 764.1 L511.0 764.6 L511.2 765.1 L511.3 765.6 L511.5 766.1 L511.7 766.6 L511.9 767.1 L512.0 767.6 L512.2 768.1 L512.4 768.6 L512.6 769.1 L512.7 769.5 L512.9 770.0 L513.1 770.5 L513.3 771.0 L513.4 771.5 L513.6 772.0 L513.8 772.5 L514.0 773.0 L514.1 773.5 L514.3 774.0 L514.5 774.5 L514.6 775.0 L514.8 775.5 L515.0 776.0 L515.2 776.5 L515.3 777.0 L515.5 777.5 L515.7 778.0 L515.8 778.5 L516.0 779.0 L516.2 779.5 L516.3 780.0 L516.5 780.5 L516.7 781.0 L516.8 781.5 L517.0 782.0 L517.2 782.5 L517.3 783.0 L517.5 783.5 L517.6 784.0 L517.8 784.5 L518.0 785.0 L518.1 785.5 L518.3 786.0 L518.5 786.5 L518.6 787.0 L518.8 787.5 L519.0 788.0 L519.1 788.5 L519.3 789.0 L519.4 789.5 L519.6 790.0 L519.7 790.5 L519.9 791.0 L520.1 791.5 L520.2 792.0 L520.4 792.5 L520.5 793.0 L520.7 793.5 L520.9 794.0 L521.0 794.5 L521.2 795.0 L521.3 795.5 L521.5 796.0 L521.7 796.5 L521.8 797.0 L522.0 797.5 L522.1 798.0 L522.3 798.5 L522.4 799.0 L522.6 799.5 L522.7 800.0 L522.9 800.5 L523.0 801.0 L523.2 801.5 L523.3 802.0 L523.5 802.5 L523.6 803.0 L523.8 803.5 L523.9 804.0 L524.1 804.5 L524.2 805.0 L524.4 805.5 L524.5 806.0 L524.7 806.5 L524.8 807.0 L525.0 807.5 L525.1 808.0 L525.3 808.5 L525.4 809.0 L525.6 809.5 L525.7 810.0 L525.9 810.5 L526.0 811.0 L526.2 811.5 L526.3 812.0 L526.4 812.5 L526.6 813.0 L526.7 813.5 L526.9 814.0 L527.0 814.5 L527.2 815.0 L527.4 815.5 L527.6 816.0 L527.8 816.5 L528.0 817.0 L528.3 817.5 L528.5 818.0 L528.7 818.5 L528.9 819.0 L529.2 819.5 L529.4 820.0 L529.6 820.5 L529.8 821.0 L530.1 821.5 L530.3 822.0 L530.5 822.5 L530.7 823.0 L530.9 823.5 L531.2 824.0 L531.4 824.5 L531.6 825.0 L531.8 825.5 L532.1 826.0 L532.3 826.5 L532.5 827.0 L532.8 827.5 L533.3 828.0 L533.8 828.5 L534.3 829.0 L534.8 829.5 L535.3 830.0 L535.8 830.5 L536.3 831.0 L536.8 831.5 L537.3 832.0 L537.8 832.5 L538.3 833.0 L538.8 833.5 L539.3 834.0 L539.8 834.5 L540.3 835.0 L540.8 835.5 L541.3 836.0 L541.8 836.5 L542.3 837.0 L542.8 837.5 L543.3 838.0 L543.8 838.5 L544.3 839.0 L544.8 839.5 L545.3 840.0 L545.8 840.5 L546.3 841.0 L546.9 841.5 L547.4 842.0 L547.9 842.5 L548.4 843.0 L548.9 843.5 L549.4 844.0 L547.9 844.0 L547.4 843.5 L546.9 843.0 L546.4 842.5 L545.9 842.0 L545.5 841.5 L545.0 841.0 L544.5 840.5 L544.0 840.0 L543.5 839.5 L543.0 839.0 L542.5 838.5 L542.0 838.0 L541.5 837.5 L541.0 837.0 L540.5 836.5 L540.0 836.0 L539.6 835.5 L539.1 835.0 L538.6 834.5 L538.1 834.0 L537.6 833.5 L537.1 833.0 L536.6 832.5 L536.1 832.0 L535.6 831.5 L535.1 831.0 L534.6 830.5 L534.1 830.0 L533.6 829.5 L533.2 829.0 L532.7 828.5 L532.2 828.0 L531.7 827.5 L531.2 827.0 L530.7 826.5 L530.2 826.0 L529.7 825.5 L529.3 825.0 L528.9 824.5 L528.5 824.0 L528.1 823.5 L527.7 823.0 L527.4 822.5 L527.0 822.0 L526.6 821.5 L526.2 821.0 L525.8 820.5 L525.4 820.0 L525.0 819.5 L524.6 819.0 L524.2 818.5 L523.7 818.0 L523.3 817.5 L522.9 817.0 L522.4 816.5 L522.0 816.0 L521.5 815.5 L521.1 815.0 L520.7 814.5 L520.2 814.0 L519.9 813.5 L519.6 813.0 L519.3 812.5 L519.0 812.0 L518.7 811.5 L518.4 811.0 L518.1 810.5 L517.8 810.0 L517.5 809.5 L517.3 809.0 L517.2 808.5 L517.1 808.0 L517.0 807.5 L516.8 807.0 L516.7 806.5 L516.6 806.0 L516.5 805.5 L516.4 805.0 L516.2 804.5 L516.1 804.0 L516.0 803.5 L515.9 803.0 L515.7 802.5 L515.6 802.0 L515.5 801.5 L515.4 801.0 L515.3 800.5 L515.1 800.0 L515.0 799.5 L514.9 799.0 L514.7 798.5 L514.6 798.0 L514.4 797.5 L514.3 797.0 L514.1 796.5 L514.0 796.0 L513.9 795.5 L513.7 795.0 L513.6 794.5 L513.4 794.0 L513.3 793.5 L513.1 793.0 L513.0 792.5 L512.8 792.0 L512.7 791.5 L512.6 791.0 L512.4 790.5 L512.3 790.0 L512.1 789.5 L512.0 789.0 L511.8 788.5 L511.7 788.0 L511.6 787.5 L511.4 787.0 L511.2 786.5 L511.1 786.0 L510.9 785.5 L510.8 785.0 L510.6 784.5 L510.4 784.0 L510.3 783.5 L510.1 783.0 L509.9 782.5 L509.8 782.0 L509.6 781.5 L509.5 781.0 L509.3 780.5 L509.1 780.0 L509.0 779.5 L508.8 779.0 L508.6 778.5 L508.5 778.0 L508.3 777.5 L508.2 777.0 L508.0 776.5 L507.8 776.0 L507.7 775.5 L507.5 775.0 L507.3 774.5 L507.2 774.0 L507.0 773.5 L506.8 773.0 L506.7 772.5 L506.5 772.0 L506.3 771.5 L506.2 771.0 L506.0 770.5 L505.8 770.0 L505.6 769.5 L505.4 769.1 L505.3 768.6 L505.1 768.1 L504.9 767.6 L504.7 767.1 L504.6 766.6 L504.4 766.1 L504.2 765.6 L504.0 765.1 L503.9 764.6 L503.7 764.1 L503.5 763.6 L503.3 763.1 L503.2 762.6 L503.0 762.1 L502.8 761.6 L502.6 761.1 L502.5 760.6 L502.3 760.1 L502.1 759.6 L501.9 759.1 L501.8 758.6 L501.6 758.1 L501.4 757.6 L501.2 757.1 L501.1 756.6 L500.9 756.1 L500.7 755.6 L500.6 755.1 L500.4 754.6 L500.2 754.1 L500.1 753.6 L499.9 753.1 L499.7 752.6 L499.6 752.1 L499.4 751.6 L499.2 751.1 L499.1 750.6 L498.9 750.1 L498.7 749.6 L498.6 749.1 L498.4 748.6 L498.2 748.1 L498.1 747.6 L497.9 747.1 L497.7 746.6 L497.6 746.1 L497.4 745.6 L497.2 745.1 L497.1 744.6 L496.9 744.1 L496.7 743.6 L496.6 743.1 L496.4 742.6 L496.2 742.1 L496.1 741.6 L495.9 741.1 L495.8 740.6 L495.6 740.1 L495.4 739.6 L495.3 739.1 L495.1 738.6 L494.9 738.1 L494.7 737.6 L494.5 737.1 L494.3 736.6 L494.1 736.1 L493.9 735.6 L493.6 735.1 L493.4 734.6 L493.2 734.1 L493.0 733.6 L492.8 733.1 L492.5 732.6 L492.3 732.1 L492.1 731.6 L491.9 731.1 L491.7 730.6 L491.4 730.1 L491.2 729.6 L491.0 729.1 L490.8 728.6 L490.6 728.1 L490.3 727.6 L490.1 727.1 L489.9 726.6 L489.7 726.1 L489.5 725.6 L489.2 725.1 L489.0 724.6 L488.8 724.1 L488.6 723.6 L488.4 723.1 L488.1 722.6 L487.9 722.1 L487.7 721.6 L487.5 721.1 L487.3 720.6 L487.0 720.1 L486.8 719.6 L486.6 719.1 L486.4 718.6 L486.2 718.1 L485.9 717.6 L485.7 717.1 L485.5 716.6 L485.3 716.1 L485.1 715.6 L484.9 715.1 L484.7 714.6 L484.5 714.1 L484.3 713.6 L484.1 713.1 L483.9 712.6 L483.6 712.1 L483.4 711.6 L483.2 711.1 L483.0 710.6 L482.8 710.1 L482.6 709.6 L482.4 709.1 L482.2 708.6 L482.0 708.1 L481.8 707.6 L481.6 707.1 L481.4 706.6 L481.2 706.1 L480.9 705.6 L480.7 705.1 L480.5 704.6 L480.3 704.1 L480.1 703.6 L479.9 703.1 L479.7 702.6 L479.5 702.1 L479.3 701.6 L479.1 701.1 L478.9 700.6 L478.7 700.1 L478.5 699.6 L478.2 699.1 L478.0 698.6 L477.8 698.1 L477.6 697.6 L477.4 697.1 L477.2 696.6 L477.0 696.1 L476.8 695.6 L476.6 695.1 L476.5 694.6 L476.5 694.1 L476.4 693.6 L476.4 693.1 L476.4 692.6 L476.4 692.1 L476.4 691.6 L476.4 691.1 L476.3 690.6 L476.3 690.1 L476.3 689.6 L476.3 689.1 L476.3 688.6 L476.2 688.1 L476.2 687.6 L476.2 687.1 L476.2 686.6 L476.2 686.1 L476.1 685.6 L476.1 685.1 L476.1 684.6 L476.1 684.1 L476.1 683.6 L476.0 683.1 L476.0 682.6 L476.0 682.1 L475.9 681.6 Z" fill="#d62728" fill-opacity="0.4"/>
<path d="M-419.48 865.9 L25.08 95.9 M-356.64 865.9 L87.91 95.9 M-293.81 865.9 L150.75 95.9 M-230.97 865.9 L213.58 95.9 M-168.14 865.9 L276.42 95.9 M-105.30 865.9 L339.25 95.9 M-42.47 865.9 L402.09 95.9 M20.37 865.9 L464.92 95.9 M83.20 865.9 L527.76 95.9 M146.03 865.9 L590.59 95.9 M208.87 865.9 L653.43 95.9 M271.70 865.9 L716.26 95.9 M334.54 865.9 L779.10 95.9 M397.37 865.9 L841.93 95.9 M460.21 865.9 L904.77 95.9 M523.04 865.9 L967.60 95.9 M585.88 865.9 L1030.44 95.9 M648.72 865.9 L1093.27 95.9 M711.55 865.9 L1156.11 95.9 M83.5 322.50 L712.5 322.50 M83.5 455.50 L712.5 455.50 M83.5 549.50 L712.5 549.50 M83.5 622.50 L712.5 622.50 M83.5 682.50 L712.5 682.50 M83.5 733.50 L712.5 733.50 M83.5 776.50 L712.5 776.50 M83.5 815.50 L712.5 815.50 M83.5 849.50 L712.5 849.50" stroke="#b0b0b0" stroke-width="1.11" fill="none"/>
<path d="M229.44 865.90 L225.07 859.80 L220.66 853.58 L216.22 847.24 L211.73 840.77 L207.20 834.18 L202.62 827.45 L198.00 820.58 L193.34 813.56 L188.63 806.39 L183.86 799.05 L179.05 791.55 L174.19 783.88 L169.28 776.01 L164.31 767.96 L159.28 759.70 L154.20 751.23 L149.07 742.53 L143.87 733.60 L138.60 724.42 L133.28 714.97 L127.89 705.24 L122.43 695.21 L116.90 684.86 L111.30 674.18 L105.63 663.14 L99.87 651.71 L94.04 639.87 L88.13 627.58 L82.14 614.82 L76.06 601.54 L69.89 587.69 L63.63 573.24 L57.28 558.12 L50.83 542.26 L44.28 525.60 L37.64 508.04 L30.89 489.49 L24.05 469.83 L17.11 448.91 L10.08 426.56 L2.95 402.57 L-4.25 376.69 L-11.50 348.58 L-18.79 317.83 L-26.06 283.90 L-33.26 246.03 L-40.26 203.21 L-46.87 153.93 L-52.78 95.90 M293.15 865.90 L288.45 859.80 L283.70 853.58 L278.91 847.24 L274.06 840.77 L269.18 834.18 L264.24 827.45 L259.25 820.58 L254.21 813.56 L249.12 806.39 L243.97 799.05 L238.77 791.55 L233.51 783.88 L228.19 776.01 L222.81 767.96 L217.36 759.70 L211.85 751.23 L206.28 742.53 L200.64 733.60 L194.92 724.42 L189.13 714.97 L183.27 705.24 L177.33 695.21 L171.31 684.86 L165.20 674.18 L159.01 663.14 L152.73 651.71 L146.36 639.87 L139.89 627.58 L133.32 614.82 L126.65 601.54 L119.87 587.69 L112.99 573.24 L105.99 558.12 L98.87 542.26 L91.63 525.60 L84.27 508.04 L76.77 489.49 L69.15 469.83 L61.39 448.91 L53.50 426.56 L45.48 402.57 L37.33 376.69 L29.07 348.58 L20.71 317.83 L12.28 283.90 L3.84 246.03 L-4.52 203.21 L-12.64 153.93 L-20.23 95.90 M356.87 865.90 L351.83 859.80 L346.74 853.58 L341.59 847.24 L336.40 840.77 L331.15 834.18 L325.85 827.45 L320.50 820.58 L315.08 813.56 L309.61 806.39 L304.08 799.05 L298.48 791.55 L292.82 783.88 L287.10 776.01 L281.31 767.96 L275.44 759.70 L269.51 751.23 L263.50 742.53 L257.41 733.60 L251.24 724.42 L244.99 714.97 L238.65 705.24 L232.23 695.21 L225.72 684.86 L219.11 674.18 L212.40 663.14 L205.59 651.71 L198.67 639.87 L191.64 627.58 L184.50 614.82 L177.24 601.54 L169.86 587.69 L162.35 573.24 L154.70 558.12 L146.91 542.26 L138.98 525.60 L130.90 508.04 L122.65 489.49 L114.25 469.83 L105.68 448.91 L96.93 426.56 L88.01 402.57 L78.91 376.69 L69.64 348.58 L60.21 317.83 L50.63 283.90 L40.94 246.03 L31.22 203.21 L21.60 153.93 L12.31 95.90 M420.59 865.90 L415.21 859.80 L409.77 853.58 L404.28 847.24 L398.74 840.77 L393.13 834.18 L387.47 827.45 L381.74 820.58 L375.96 813.56 L370.10 806.39 L364.19 799.05 L358.20 791.55 L352.14 783.88 L346.01 776.01 L339.80 767.96 L333.52 759.70 L327.16 751.23 L320.71 742.53 L314.18 733.60 L307.56 724.42 L300.84 714.97 L294.04 705.24 L287.13 695.21 L280.12 684.86 L273.01 674.18 L265.78 663.14 L258.44 651.71 L250.98 639.87 L243.40 627.58 L235.69 614.82 L227.84 601.54 L219.84 587.69 L211.71 573.24 L203.41 558.12 L194.95 542.26 L186.33 525.60 L177.53 508.04 L168.54 489.49 L159.35 469.83 L149.96 448.91 L140.36 426.56 L130.54 402.57 L120.49 376.69 L110.22 348.58 L99.71 317.83 L88.97 283.90 L78.04 246.03 L66.96 203.21 L55.83 153.93 L44.86 95.90 M484.30 865.90 L478.58 859.80 L472.81 853.58 L466.97 847.24 L461.07 840.77 L455.11 834.18 L449.08 827.45 L442.99 820.58 L436.83 813.56 L430.60 806.39 L424.29 799.05 L417.91 791.55 L411.46 783.88 L404.92 776.01 L398.30 767.96 L391.60 759.70 L384.81 751.23 L377.93 742.53 L370.95 733.60 L363.87 724.42 L356.70 714.97 L349.42 705.24 L342.03 695.21 L334.53 684.86 L326.91 674.18 L319.17 663.14 L311.30 651.71 L303.30 639.87 L295.15 627.58 L286.87 614.82 L278.43 601.54 L269.83 587.69 L261.06 573.24 L252.12 558.12 L243.00 542.26 L233.68 525.60 L224.15 508.04 L214.42 489.49 L204.45 469.83 L194.25 448.91 L183.79 426.56 L173.07 402.57 L162.07 376.69 L150.79 348.58 L139.20 317.83 L127.32 283.90 L115.14 246.03 L102.70 203.21 L90.07 153.93 L77.41 95.90 M548.02 865.90 L541.96 859.80 L535.84 853.58 L529.66 847.24 L523.41 840.77 L517.09 834.18 L510.70 827.45 L504.24 820.58 L497.70 813.56 L491.09 806.39 L484.40 799.05 L477.63 791.55 L470.77 783.88 L463.83 776.01 L456.80 767.96 L449.68 759.70 L442.46 751.23 L435.14 742.53 L427.72 733.60 L420.19 724.42 L412.56 714.97 L404.80 705.24 L396.93 695.21 L388.94 684.86 L380.81 674.18 L372.55 663.14 L364.16 651.71 L355.61 639.87 L346.91 627.58 L338.05 614.82 L329.02 601.54 L319.81 587.69 L310.42 573.24 L300.83 558.12 L291.04 542.26 L281.03 525.60 L270.78 508.04 L260.30 489.49 L249.55 469.83 L238.53 448.91 L227.22 426.56 L215.60 402.57 L203.65 376.69 L191.36 348.58 L178.70 317.83 L165.67 283.90 L152.24 246.03 L138.44 203.21 L124.31 153.93 L109.95 95.90 M611.74 865.90 L605.34 859.80 L598.88 853.58 L592.35 847.24 L585.74 840.77 L579.07 834.18 L572.31 827.45 L565.48 820.58 L558.57 813.56 L551.58 806.39 L544.51 799.05 L537.34 791.55 L530.09 783.88 L522.74 776.01 L515.30 767.96 L507.76 759.70 L500.11 751.23 L492.36 742.53 L484.49 733.60 L476.51 724.42 L468.41 714.97 L460.19 705.24 L451.83 695.21 L443.34 684.86 L434.72 674.18 L425.94 663.14 L417.01 651.71 L407.92 639.87 L398.66 627.58 L389.23 614.82 L379.61 601.54 L369.80 587.69 L359.78 573.24 L349.55 558.12 L339.08 542.26 L328.38 525.60 L317.41 508.04 L306.18 489.49 L294.65 469.83 L282.82 448.91 L270.65 426.56 L258.13 402.57 L245.23 376.69 L231.93 348.58 L218.20 317.83 L204.01 283.90 L189.34 246.03 L174.18 203.21 L158.54 153.93 L142.50 95.90 M675.45 865.90 L668.72 859.80 L661.91 853.58 L655.03 847.24 L648.08 840.77 L641.04 834.18 L633.93 827.45 L626.73 820.58 L619.45 813.56 L612.08 806.39 L604.61 799.05 L597.06 791.55 L589.41 783.88 L581.65 776.01 L573.80 767.96 L565.83 759.70 L557.76 751.23 L549.57 742.53 L541.26 733.60 L532.83 724.42 L524.27 714.97 L515.57 705.24 L506.73 695.21 L497.75 684.86 L488.62 674.18 L479.33 663.14 L469.87 651.71 L460.23 639.87 L450.42 627.58 L440.41 614.82 L430.20 601.54 L419.78 587.69 L409.14 573.24 L398.26 558.12 L387.12 542.26 L375.72 525.60 L364.04 508.04 L352.06 489.49 L339.75 469.83 L327.10 448.91 L314.08 426.56 L300.66 402.57 L286.81 376.69 L272.51 348.58 L257.70 317.83 L242.36 283.90 L226.44 246.03 L209.92 203.21 L192.78 153.93 L175.04 95.90 M739.17 865.90 L732.10 859.80 L724.95 853.58 L717.72 847.24 L710.41 840.77 L703.02 834.18 L695.54 827.45 L687.98 820.58 L680.32 813.56 L672.57 806.39 L664.72 799.05 L656.77 791.55 L648.72 783.88 L640.56 776.01 L632.30 767.96 L623.91 759.70 L615.41 751.23 L606.79 742.53 L598.03 733.60 L589.15 724.42 L580.12 714.97 L570.95 705.24 L561.63 695.21 L552.16 684.86 L542.52 674.18 L532.71 663.14 L522.72 651.71 L512.55 639.87 L502.17 627.58 L491.59 614.82 L480.80 601.54 L469.77 587.69 L458.50 573.24 L446.97 558.12 L435.17 542.26 L423.07 525.60 L410.67 508.04 L397.94 489.49 L384.85 469.83 L371.38 448.91 L357.51 426.56 L343.19 402.57 L328.39 376.69 L313.08 348.58 L297.20 317.83 L280.71 283.90 L263.54 246.03 L245.66 203.21 L227.01 153.93 L207.59 95.90 M802.89 865.90 L795.48 859.80 L787.99 853.58 L780.41 847.24 L772.75 840.77 L765.00 834.18 L757.16 827.45 L749.22 820.58 L741.19 813.56 L733.06 806.39 L724.83 799.05 L716.49 791.55 L708.04 783.88 L699.48 776.01 L690.79 767.96 L681.99 759.70 L673.06 751.23 L664.00 742.53 L654.80 733.60 L645.46 724.42 L635.98 714.97 L626.34 705.24 L616.54 695.21 L606.57 684.86 L596.42 674.18 L586.10 663.14 L575.58 651.71 L564.86 639.87 L553.93 627.58 L542.78 614.82 L531.39 601.54 L519.75 587.69 L507.86 573.24 L495.68 558.12 L483.21 542.26 L470.42 525.60 L457.30 508.04 L443.82 489.49 L429.95 469.83 L415.67 448.91 L400.94 426.56 L385.72 402.57 L369.97 376.69 L353.65 348.58 L336.70 317.83 L319.05 283.90 L300.64 246.03 L281.40 203.21 L261.25 153.93 L240.13 95.90" stroke="#ff0000" stroke-opacity="0.5" stroke-width="1.39" stroke-dasharray="5.14 2.22" fill="none"/>
<path d="M228.87 865.90 L224.74 859.80 L220.55 853.58 L216.30 847.24 L211.99 840.77 L207.62 834.18 L203.20 827.45 L198.71 820.58 L194.17 813.56 L189.56 806.39 L184.90 799.05 L180.17 791.55 L175.38 783.88 L170.53 776.01 L165.62 767.96 L160.64 759.70 L155.60 751.23 L150.49 742.53 L145.32 733.60 L140.08 724.42 L134.77 714.97 L129.38 705.24 L123.93 695.21 L118.41 684.86 L112.80 674.18 L107.13 663.14 L101.37 651.71 L95.53 639.87 L89.61 627.58 L83.60 614.82 L77.51 601.54 L71.33 587.69 L65.05 573.24 L58.68 558.12 L52.21 542.26 L45.65 525.60 L38.98 508.04 L32.22 489.49 L25.35 469.83 L18.39 448.91 L11.33 426.56 L4.18 402.57 L-3.05 376.69 L-10.33 348.58 L-17.65 317.83 L-24.96 283.90 L-32.19 246.03 L-39.23 203.21 L-45.88 153.93 L-51.84 95.90 M291.79 865.90 L287.64 859.80 L283.41 853.58 L279.11 847.24 L274.71 840.77 L270.24 834.18 L265.68 827.45 L261.04 820.58 L256.32 813.56 L251.52 806.39 L246.63 799.05 L241.66 791.55 L236.61 783.88 L231.47 776.01 L226.25 767.96 L220.94 759.70 L215.55 751.23 L210.07 742.53 L204.51 733.60 L198.86 724.42 L193.13 714.97 L187.30 705.24 L181.39 695.21 L175.38 684.86 L169.28 674.18 L163.09 663.14 L156.80 651.71 L150.41 639.87 L143.91 627.58 L137.32 614.82 L130.61 601.54 L123.80 587.69 L116.87 573.24 L109.82 558.12 L102.66 542.26 L95.36 525.60 L87.95 508.04 L80.40 489.49 L72.71 469.83 L64.89 448.91 L56.93 426.56 L48.84 402.57 L40.62 376.69 L32.27 348.58 L23.83 317.83 L15.31 283.90 L6.77 246.03 L-1.69 203.21 L-9.93 153.93 L-17.66 95.90 M353.98 865.90 L350.11 859.80 L346.12 853.58 L342.03 847.24 L337.82 840.77 L333.51 834.18 L329.07 827.45 L324.53 820.58 L319.87 813.56 L315.09 806.39 L310.20 799.05 L305.18 791.55 L300.05 783.88 L294.80 776.01 L289.43 767.96 L283.94 759.70 L278.34 751.23 L272.61 742.53 L266.77 733.60 L260.80 724.42 L254.72 714.97 L248.51 705.24 L242.19 695.21 L235.74 684.86 L229.18 674.18 L222.49 663.14 L215.67 651.71 L208.73 639.87 L201.66 627.58 L194.47 614.82 L187.13 601.54 L179.66 587.69 L172.05 573.24 L164.30 558.12 L156.39 542.26 L148.34 525.60 L140.12 508.04 L131.73 489.49 L123.18 469.83 L114.45 448.91 L105.53 426.56 L96.43 402.57 L87.15 376.69 L77.68 348.58 L68.03 317.83 L58.22 283.90 L48.29 246.03 L38.30 203.21 L28.38 153.93 L18.76 95.90 M415.29 865.90 L412.02 859.80 L408.62 853.58 L405.10 847.24 L401.45 840.77 L397.67 834.18 L393.76 827.45 L389.70 820.58 L385.49 813.56 L381.13 806.39 L376.62 799.05 L371.95 791.55 L367.12 783.88 L362.13 776.01 L356.97 767.96 L351.63 759.70 L346.13 751.23 L340.45 742.53 L334.60 733.60 L328.57 724.42 L322.37 714.97 L315.99 705.24 L309.44 695.21 L302.70 684.86 L295.80 674.18 L288.71 663.14 L281.45 651.71 L274.02 639.87 L266.41 627.58 L258.62 614.82 L250.66 601.54 L242.51 587.69 L234.18 573.24 L225.67 558.12 L216.96 542.26 L208.06 525.60 L198.96 508.04 L189.65 489.49 L180.12 469.83 L170.36 448.91 L160.38 426.56 L150.14 402.57 L139.66 376.69 L128.92 348.58 L117.92 317.83 L106.65 283.90 L95.15 246.03 L83.44 203.21 L71.62 153.93 L59.86 95.90 M475.89 865.90 L473.47 859.80 L470.94 853.58 L468.31 847.24 L465.56 840.77 L462.69 834.18 L459.69 827.45 L456.55 820.58 L453.27 813.56 L449.83 806.39 L446.23 799.05 L442.46 791.55 L438.51 783.88 L434.37 776.01 L430.04 767.96 L425.49 759.70 L420.73 751.23 L415.74 742.53 L410.52 733.60 L405.05 724.42 L399.33 714.97 L393.36 705.24 L387.12 695.21 L380.61 684.86 L373.83 674.18 L366.77 663.14 L359.43 651.71 L351.82 639.87 L343.93 627.58 L335.76 614.82 L327.31 601.54 L318.58 587.69 L309.59 573.24 L300.31 558.12 L290.77 542.26 L280.95 525.60 L270.85 508.04 L260.46 489.49 L249.79 469.83 L238.82 448.91 L227.54 426.56 L215.93 402.57 L203.99 376.69 L191.70 348.58 L179.04 317.83 L165.99 283.90 L152.56 246.03 L138.75 203.21 L124.60 153.93 L110.23 95.90 M506.06 865.90 L504.11 859.80 L502.07 853.58 L499.94 847.24 L497.71 840.77 L495.38 834.18 L492.93 827.45 L490.36 820.58 L487.67 813.56 L484.83 806.39 L481.86 799.05 L478.72 791.55 L475.42 783.88 L471.94 776.01 L468.28 767.96 L464.41 759.70 L460.32 751.23 L456.01 742.53 L451.45 733.60 L446.64 724.42 L441.55 714.97 L436.18 705.24 L430.51 695.21 L424.53 684.86 L418.23 674.18 L411.59 663.14 L404.60 651.71 L397.26 639.87 L389.56 627.58 L381.49 614.82 L373.06 601.54 L364.27 587.69 L355.11 573.24 L345.59 558.12 L335.71 542.26 L325.47 525.60 L314.88 508.04 L303.93 489.49 L292.62 469.83 L280.95 448.91 L268.91 426.56 L256.49 402.57 L243.66 376.69 L230.42 348.58 L216.74 317.83 L202.60 283.90 L187.98 246.03 L172.87 203.21 L157.29 153.93 L141.30 95.90 M536.26 865.90 L534.77 859.80 L533.21 853.58 L531.57 847.24 L529.86 840.77 L528.07 834.18 L526.19 827.45 L524.21 820.58 L522.13 813.56 L519.93 806.39 L517.62 799.05 L515.18 791.55 L512.60 783.88 L509.87 776.01 L506.98 767.96 L503.92 759.70 L500.66 751.23 L497.20 742.53 L493.52 733.60 L489.60 724.42 L485.42 714.97 L480.97 705.24 L476.21 695.21 L471.13 684.86 L465.71 674.18 L459.92 663.14 L453.74 651.71 L447.14 639.87 L440.11 627.58 L432.62 614.82 L424.66 601.54 L416.22 587.69 L407.29 573.24 L397.86 558.12 L387.92 542.26 L377.50 525.60 L366.57 508.04 L355.17 489.49 L343.27 469.83 L330.90 448.91 L318.05 426.56 L304.71 402.57 L290.88 376.69 L276.54 348.58 L261.67 317.83 L246.23 283.90 L230.20 246.03 L213.54 203.21 L196.24 153.93 L178.34 95.90 M566.53 865.90 L565.47 859.80 L564.35 853.58 L563.19 847.24 L561.97 840.77 L560.69 834.18 L559.35 827.45 L557.93 820.58 L556.44 813.56 L554.87 806.39 L553.21 799.05 L551.46 791.55 L549.60 783.88 L547.63 776.01 L545.53 767.96 L543.30 759.70 L540.93 751.23 L538.40 742.53 L535.69 733.60 L532.79 724.42 L529.68 714.97 L526.34 705.24 L522.74 695.21 L518.86 684.86 L514.67 674.18 L510.15 663.14 L505.25 651.71 L499.94 639.87 L494.19 627.58 L487.94 614.82 L481.17 601.54 L473.83 587.69 L465.88 573.24 L457.28 558.12 L448.01 542.26 L438.04 525.60 L427.35 508.04 L415.95 489.49 L403.82 469.83 L390.99 448.91 L377.46 426.56 L363.25 402.57 L348.35 376.69 L332.78 348.58 L316.51 317.83 L299.52 283.90 L281.79 246.03 L263.25 203.21 L243.87 153.93 L223.61 95.90 M596.92 865.90 L596.24 859.80 L595.53 853.58 L594.79 847.24 L594.01 840.77 L593.19 834.18 L592.33 827.45 L591.42 820.58 L590.46 813.56 L589.46 806.39 L588.39 799.05 L587.26 791.55 L586.06 783.88 L584.78 776.01 L583.43 767.96 L581.98 759.70 L580.44 751.23 L578.79 742.53 L577.01 733.60 L575.11 724.42 L573.06 714.97 L570.84 705.24 L568.44 695.21 L565.84 684.86 L563.02 674.18 L559.94 663.14 L556.57 651.71 L552.88 639.87 L548.83 627.58 L544.36 614.82 L539.44 601.54 L533.98 587.69 L527.94 573.24 L521.24 558.12 L513.79 542.26 L505.52 525.60 L496.34 508.04 L486.19 489.49 L475.00 469.83 L462.72 448.91 L449.33 426.56 L434.83 402.57 L419.23 376.69 L402.57 348.58 L384.86 317.83 L366.13 283.90 L346.36 246.03 L325.52 203.21 L303.55 153.93 L280.35 95.90 M627.45 865.90 L627.10 859.80 L626.74 853.58 L626.36 847.24 L625.96 840.77 L625.53 834.18 L625.09 827.45 L624.62 820.58 L624.12 813.56 L623.59 806.39 L623.03 799.05 L622.43 791.55 L621.79 783.88 L621.12 776.01 L620.39 767.96 L619.61 759.70 L618.78 751.23 L617.88 742.53 L616.92 733.60 L615.88 724.42 L614.75 714.97 L613.52 705.24 L612.19 695.21 L610.73 684.86 L609.14 674.18 L607.39 663.14 L605.46 651.71 L603.33 639.87 L600.97 627.58 L598.35 614.82 L595.42 601.54 L592.12 587.69 L588.42 573.24 L584.22 558.12 L579.46 542.26 L574.02 525.60 L567.78 508.04 L560.62 489.49 L552.36 469.83 L542.84 448.91 L531.86 426.56 L519.25 402.57 L504.87 376.69 L488.63 348.58 L470.50 317.83 L450.52 283.90 L428.77 246.03 L405.31 203.21 L380.16 153.93 L353.25 95.90 M658.13 865.90 L658.06 859.80 L657.99 853.58 L657.90 847.24 L657.82 840.77 L657.72 834.18 L657.62 827.45 L657.50 820.58 L657.38 813.56 L657.24 806.39 L657.09 799.05 L656.93 791.55 L656.75 783.88 L656.56 776.01 L656.34 767.96 L656.11 759.70 L655.84 751.23 L655.55 742.53 L655.23 733.60 L654.88 724.42 L654.49 714.97 L654.05 705.24 L653.56 695.21 L653.02 684.86 L652.41 674.18 L651.73 663.14 L650.96 651.71 L650.09 639.87 L649.11 627.58 L647.99 614.82 L646.72 601.54 L645.27 587.69 L643.60 573.24 L641.67 558.12 L639.43 542.26 L636.81 525.60 L633.74 508.04 L630.10 489.49 L625.76 469.83 L620.56 448.91 L614.26 426.56 L606.58 402.57 L597.16 376.69 L585.55 348.58 L571.27 317.83 L553.84 283.90 L532.90 246.03 L508.37 203.21 L480.38 153.93 L449.18 95.90 M688.95 865.90 L689.11 859.80 L689.26 853.58 L689.42 847.24 L689.59 840.77 L689.75 834.18 L689.92 827.45 L690.09 820.58 L690.27 813.56 L690.44 806.39 L690.62 799.05 L690.80 791.55 L690.98 783.88 L691.16 776.01 L691.34 767.96 L691.52 759.70 L691.70 751.23 L691.87 742.53 L692.05 733.60 L692.22 724.42 L692.38 714.97 L692.54 705.24 L692.68 695.21 L692.82 684.86 L692.94 674.18 L693.04 663.14 L693.13 651.71 L693.18 639.87 L693.20 627.58 L693.19 614.82 L693.12 601.54 L693.00 587.69 L692.80 573.24 L692.51 558.12 L692.11 542.26 L691.57 525.60 L690.86 508.04 L689.93 489.49 L688.71 469.83 L687.13 448.91 L685.07 426.56 L682.38 402.57 L678.84 376.69 L674.11 348.58 L667.75 317.83 L659.04 283.90 L646.96 246.03 L630.09 203.21 L606.75 153.93 L575.65 95.90 M719.90 865.90 L720.23 859.80 L720.57 853.58 L720.92 847.24 L721.28 840.77 L721.65 834.18 L722.03 827.45 L722.42 820.58 L722.83 813.56 L723.24 806.39 L723.66 799.05 L724.10 791.55 L724.55 783.88 L725.02 776.01 L725.50 767.96 L725.99 759.70 L726.50 751.23 L727.02 742.53 L727.56 733.60 L728.11 724.42 L728.68 714.97 L729.27 705.24 L729.88 695.21 L730.50 684.86 L731.14 674.18 L731.80 663.14 L732.49 651.71 L733.18 639.87 L733.90 627.58 L734.64 614.82 L735.40 601.54 L736.18 587.69 L736.97 573.24 L737.77 558.12 L738.58 542.26 L739.40 525.60 L740.21 508.04 L741.01 489.49 L741.77 469.83 L742.49 448.91 L743.13 426.56 L743.64 402.57 L743.95 376.69 L743.97 348.58 L743.52 317.83 L742.37 283.90 L740.07 246.03 L735.84 203.21 L728.28 153.93 L714.58 95.90" stroke="#0000ff" stroke-opacity="0.5" stroke-width="1.39" stroke-dasharray="5.14 2.22" fill="none"/>
<path d="M591.3 90.0 L574.7 127.3 L561.0 159.5 L557.6 174.6 L555.6 183.7 L546.5 205.9 L517.9 254.1 L506.8 278.3 L498.3 299.4 L484.6 322.6 L468.5 344.8 L448.4 367.0 L426.8 393.6 L410.9 417.3 L408.1 434.4 L406.9 441.5 L408.1 453.6 L410.5 464.6 L417.6 486.8 L428.7 519.0 L440.9 552.2 L449.0 574.3 L458.0 599.5 L466.7 624.7 L472.1 648.9 L474.6 670.2 L476.0 682.2 L476.5 694.9 L485.9 717.5 L494.8 737.7 L500.8 755.8 L506.8 772.9 L511.4 787.0 L515.0 799.5 L517.4 809.3 L520.2 814.0 L524.7 819.1 L529.6 825.4 L548.9 845.0" stroke="#ff0000" stroke-width="2.08" fill="none" stroke-linejoin="round" stroke-linecap="square"/>
<path d="M402.7 90.0 L280.9 300.5 L293.4 323.6 L315.6 346.8 L340.0 387.7 L358.1 417.3 L364.6 439.4 L363.8 464.6 L364.6 486.8 L372.6 509.0 L370.2 534.2 L344.2 579.4 L335.7 601.5 L333.7 625.7 L335.7 648.9 L340.0 653.6 L356.7 672.1 L415.6 694.7 L429.7 717.5 L452.8 737.7 L477.5 756.2 L490.1 772.9 L495.2 787.0 L503.2 799.5 L512.0 809.7 L517.5 814.1 L523.9 818.5 L526.1 823.0 L527.0 825.7 L525.9 831.3 L525.0 839.0 L525.3 843.6 L526.4 844.4" stroke="#008000" stroke-width="2.08" fill="none" stroke-linejoin="round" stroke-linecap="square"/>
<path d="M529.9 824.6 L525.85 843.2" stroke="#000" stroke-width="2.08" fill="none" stroke-linecap="square"/>
<path d="M549.4 844.0 L546.6 841.3 L543.9 838.6 L541.1 835.8 L538.3 833.1 L535.5 830.3 L532.7 827.4 L527.3 815.3 L524.5 806.0 L521.7 796.7 L518.7 787.4 L515.7 778.1 L512.5 768.8 L509.2 759.4 L505.7 750.1 L502.1 740.8 L498.4 731.5 L494.5 722.2 L490.5 712.9 L486.3 703.6 L482.0 694.3 L477.6 685.0 L473.0 675.7 L468.3 666.4 L463.4 657.1 L458.5 647.8 L453.3 638.4 L448.1 629.1 L442.8 619.8 L437.4 610.5 L431.8 601.2 L426.2 591.9 L420.6 582.6 L414.9 573.3 L409.1 564.0 L403.3 554.7 L397.5 545.4 L391.7 536.1 L385.9 526.8 L380.1 517.4 L374.3 508.1 L368.5 498.8 L362.8 489.5 L357.1 480.2 L351.5 470.9 L345.9 461.6 L340.3 452.3 L334.9 443.0 L329.5 433.7 L324.1 424.4 L318.9 415.1 L313.7 405.7 L308.6 396.4 L303.5 387.1 L298.6 377.8 L293.7 368.5 L288.9 359.2 L284.1 349.9 L279.5 340.6 L274.9 331.3 L270.4 322.0 L266.0 312.7 L261.6 303.4 L257.3 294.1 L253.2 284.7 L249.0 275.4 L245.0 266.1 L241.0 256.8 L237.1 247.5 L233.3 238.2 L229.6 228.9 L225.9 219.6 L222.3 210.3 L218.8 201.0 L215.4 191.7 L212.0 182.4 L208.7 173.1 L205.4 163.7 L202.3 154.4 L199.2 145.1 L196.1 135.8 L193.2 126.5 L190.3 117.2 L187.4 107.9 L184.7 98.6 L182.0 89.3" stroke="#000" stroke-width="2.78" fill="none" stroke-linejoin="round" stroke-linecap="square"/>
<path d="M714.42 136.81 L679.04 147.76 L670.96 136.02 L679.04 147.76 L683.11 146.50 L679.06 140.63 L683.11 146.50 M714.28 183.16 L680.59 198.51 L671.07 187.89 L680.59 198.51 L684.46 196.75 L674.94 186.13 L684.46 196.75 M714.46 230.46 L678.56 239.55 L671.10 227.40 L678.56 239.55 L682.69 238.50 L675.22 226.35 L682.69 238.50 M714.41 277.20 L679.10 288.33 L670.95 276.63 L679.10 288.33 L683.15 287.05 L675.01 275.35 L683.15 287.05 L687.21 285.77 L683.14 279.92 L687.21 285.77 M714.43 323.36 L678.89 333.75 L670.99 321.88 L678.89 333.75 L682.97 332.56 L675.07 320.69 L682.97 332.56 L687.06 331.36 L683.10 325.43 L687.06 331.36 M714.50 371.13 L678.14 378.13 L671.39 365.57 L678.14 378.13 L682.31 377.33 L675.56 364.77 L682.31 377.33 L686.49 376.53 L683.11 370.25 L686.49 376.53 M714.51 417.38 L678.03 423.75 L671.50 411.07 L678.03 423.75 L682.22 423.02 L675.69 410.34 L682.22 423.02 L686.41 422.29 L679.88 409.61 L686.41 422.29 M714.52 463.58 L677.86 468.79 L671.73 455.92 L677.86 468.79 L682.07 468.20 L675.94 455.32 L682.07 468.20 L686.28 467.60 L680.16 454.72 L686.28 467.60 L690.50 467.00 L687.43 460.56 L690.50 467.00 M714.55 511.12 L677.53 512.09 L672.93 498.60 L677.53 512.09 L681.79 511.98 L677.18 498.48 L681.79 511.98 L686.04 511.87 L681.43 498.37 L686.04 511.87 L690.29 511.76 L687.99 505.01 L690.29 511.76 M714.55 556.90 L677.52 556.90 L673.27 543.29 L677.52 556.90 L681.78 556.90 L677.52 543.29 L681.78 556.90 L686.03 556.90 L681.78 543.29 L686.03 556.90 M714.55 602.95 L677.57 604.82 L672.63 591.44 L677.57 604.82 L681.81 604.61 L676.88 591.23 L681.81 604.61 L686.06 604.39 L683.59 597.70 L686.06 604.39 M714.53 649.01 L677.81 653.78 L671.84 640.83 L677.81 653.78 L682.02 653.23 L676.05 640.29 L682.02 653.23 M714.44 694.80 L678.74 704.64 L671.03 692.64 L678.74 704.64 L682.85 703.51 L678.99 697.51 L682.85 703.51 M714.36 737.45 L679.68 750.42 L670.93 739.16 L679.68 750.42 L683.66 748.93 L679.29 743.30 L683.66 748.93 M714.43 771.87 L678.86 782.14 L671.00 770.24 L678.86 782.14 L682.94 780.96 L679.01 775.01 L682.94 780.96 M714.55 800.25 L677.53 800.89 L673.04 787.36 L677.53 800.89 M714.50 818.14 L678.13 825.08 L671.40 812.50 L678.13 825.08 M714.47 830.70 L678.45 839.29 L671.16 827.03 L678.45 839.29 M714.48 839.87 L678.28 847.63 L671.27 835.22 L678.28 847.63 M714.44 843.18 L678.81 853.26 L671.01 841.33 L678.81 853.26" stroke="#000" stroke-width="1.9" fill="none" stroke-linejoin="miter"/>
</g>
<rect x="91.5" y="704.5" width="154" height="154" fill="#fff"/>
<g clip-path="url(#in)">
<circle cx="168.45" cy="781.4" r="25.68" fill="none" stroke="#808080" stroke-width="1.39" stroke-dasharray="5.14 2.22"/>
<circle cx="168.45" cy="781.4" r="51.36" fill="none" stroke="#808080" stroke-width="1.39" stroke-dasharray="5.14 2.22"/>
<circle cx="168.45" cy="781.4" r="77.04" fill="none" stroke="#808080" stroke-width="1.39" stroke-dasharray="5.14 2.22"/>
<circle cx="168.45" cy="781.4" r="102.72" fill="none" stroke="#808080" stroke-width="1.39" stroke-dasharray="5.14 2.22"/>
<path d="M168 858.4 L168 704.4 M91.4 781 L245.5 781" stroke="#808080" stroke-width="2.08" stroke-dasharray="7.71 3.33" fill="none"/>
<path d="M188.80 775.40 L192.12 774.84" stroke="#440256" stroke-width="3.47" fill="none"/>
<path d="M191.78 774.89 L194.85 775.04" stroke="#450559" stroke-width="3.47" fill="none"/>
<path d="M194.50 775.03 L196.53 777.71" stroke="#46085c" stroke-width="3.47" fill="none"/>
<path d="M196.32 777.44 L198.37 780.06" stroke="#460b5e" stroke-width="3.47" fill="none"/>
<path d="M198.15 779.79 L201.42 778.95" stroke="#471063" stroke-width="3.47" fill="none"/>
<path d="M201.08 779.03 L201.87 776.09" stroke="#481467" stroke-width="3.47" fill="none"/>
<path d="M201.78 776.43 L202.02 773.07" stroke="#48186a" stroke-width="3.47" fill="none"/>
<path d="M202.00 773.42 L202.37 770.11" stroke="#481c6e" stroke-width="3.47" fill="none"/>
<path d="M202.33 770.46 L204.64 768.01" stroke="#482173" stroke-width="3.47" fill="none"/>
<path d="M204.40 768.27 L207.12 767.36" stroke="#472a7a" stroke-width="3.47" fill="none"/>
<path d="M206.78 767.47 L209.92 768.69" stroke="#463480" stroke-width="3.47" fill="none"/>
<path d="M209.60 768.56 L212.80 769.62" stroke="#433e85" stroke-width="3.47" fill="none"/>
<path d="M212.46 769.51 L215.66 770.56" stroke="#3f4788" stroke-width="3.47" fill="none"/>
<path d="M215.33 770.45 L218.45 771.69" stroke="#3b518b" stroke-width="3.47" fill="none"/>
<path d="M218.13 771.56 L221.14 773.07" stroke="#375a8c" stroke-width="3.47" fill="none"/>
<path d="M220.83 772.91 L223.84 774.42" stroke="#33628d" stroke-width="3.47" fill="none"/>
<path d="M223.53 774.26 L226.57 775.71" stroke="#30698e" stroke-width="3.47" fill="none"/>
<path d="M226.25 775.56 L229.43 776.66" stroke="#2e6f8e" stroke-width="3.47" fill="none"/>
<path d="M229.10 776.55 L232.28 777.66" stroke="#2c738e" stroke-width="3.47" fill="none"/>
<path d="M231.95 777.54 L235.13 778.63" stroke="#2a788e" stroke-width="3.47" fill="none"/>
<path d="M234.80 778.52 L238.13 779.02" stroke="#287c8e" stroke-width="3.47" fill="none"/>
<path d="M237.79 778.97 L241.12 779.48" stroke="#27808e" stroke-width="3.47" fill="none"/>
<path d="M240.77 779.42 L244.10 779.93" stroke="#25838e" stroke-width="3.47" fill="none"/>
<path d="M243.75 779.88 L247.10 780.27" stroke="#24868e" stroke-width="3.47" fill="none"/>
<path d="M246.75 780.23 L250.11 780.51" stroke="#228b8d" stroke-width="3.47" fill="none"/>
<path d="M249.76 780.48 L253.11 780.76" stroke="#218f8d" stroke-width="3.47" fill="none"/>
<path d="M252.76 780.73 L256.12 781.01" stroke="#20928c" stroke-width="3.47" fill="none"/>
<path d="M255.77 780.98 L258.42 779.01" stroke="#1f978b" stroke-width="3.47" fill="none"/>
<path d="M258.14 779.21 L260.73 777.06" stroke="#1e9c89" stroke-width="3.47" fill="none"/>
<path d="M260.46 777.28 L261.51 774.89" stroke="#1fa188" stroke-width="3.47" fill="none"/>
<path d="M261.37 775.21 L259.26 772.58" stroke="#20a486" stroke-width="3.47" fill="none"/>
<path d="M259.48 772.85 L257.38 770.22" stroke="#23a983" stroke-width="3.47" fill="none"/>
<path d="M257.60 770.49 L255.29 768.20" stroke="#27ad81" stroke-width="3.47" fill="none"/>
<path d="M255.54 768.45 L252.19 768.08" stroke="#2cb17e" stroke-width="3.47" fill="none"/>
<path d="M252.54 768.12 L249.19 767.74" stroke="#31b57b" stroke-width="3.47" fill="none"/>
<path d="M249.54 767.78 L246.19 767.41" stroke="#35b779" stroke-width="3.47" fill="none"/>
<path d="M246.54 767.45 L243.19 767.14" stroke="#3bbb75" stroke-width="3.47" fill="none"/>
<path d="M243.54 767.17 L240.18 766.90" stroke="#40bd72" stroke-width="3.47" fill="none"/>
<path d="M240.53 766.93 L237.17 766.66" stroke="#48c16e" stroke-width="3.47" fill="none"/>
<path d="M237.52 766.69 L234.22 766.06" stroke="#50c46a" stroke-width="3.47" fill="none"/>
<path d="M234.57 766.13 L231.30 765.29" stroke="#5cc863" stroke-width="3.47" fill="none"/>
<path d="M231.64 765.38 L228.45 764.35" stroke="#6ccd5a" stroke-width="3.47" fill="none"/>
<path d="M228.78 764.46 L225.83 762.84" stroke="#84d44b" stroke-width="3.47" fill="none"/>
<path d="M226.14 763.01 L223.50 764.23" stroke="#9dd93b" stroke-width="3.47" fill="none"/>
<path d="M223.81 764.08 L221.07 765.42" stroke="#b5de2b" stroke-width="3.47" fill="none"/>
<path d="M221.38 765.26 L218.17 764.31" stroke="#cde11d" stroke-width="3.47" fill="none"/>
<path d="M218.51 764.41 L215.68 762.58" stroke="#dfe318" stroke-width="3.47" fill="none"/>
<path d="M215.97 762.77 L213.14 760.95" stroke="#ece51b" stroke-width="3.47" fill="none"/>
<path d="M213.44 761.14 L210.61 759.31" stroke="#f8e621" stroke-width="3.47" fill="none"/>
</g>
<rect x="91.5" y="704.5" width="154" height="154" fill="none" stroke="#000" stroke-width="1.11"/>
<rect x="83.5" y="95.5" width="629.0" height="770.0" fill="none" stroke="#000" stroke-width="1.11"/>
<path d="M83.5 95.50 h-4.86 M83.5 322.50 h-4.86 M83.5 455.50 h-4.86 M83.5 549.50 h-4.86 M83.5 622.50 h-4.86 M83.5 682.50 h-4.86 M83.5 733.50 h-4.86 M83.5 776.50 h-4.86 M83.5 815.50 h-4.86 M83.5 849.50 h-4.86 M83.50 865.5 v4.86 M146.50 865.5 v4.86 M209.50 865.5 v4.86 M272.50 865.5 v4.86 M335.50 865.5 v4.86 M397.50 865.5 v4.86 M460.50 865.5 v4.86 M523.50 865.5 v4.86 M586.50 865.5 v4.86 M649.50 865.5 v4.86 M712.50 865.5 v4.86" stroke="#000" stroke-width="1.11" fill="none"/>
<g font-family="DejaVu Sans, Liberation Sans, sans-serif" font-size="13.89" fill="#000">
<text x="73.1" y="101.0" text-anchor="end">100</text>
<text x="73.1" y="328.0" text-anchor="end">200</text>
<text x="73.1" y="460.8" text-anchor="end">300</text>
<text x="73.1" y="555.0" text-anchor="end">400</text>
<text x="73.1" y="628.0" text-anchor="end">500</text>
<text x="73.1" y="687.7" text-anchor="end">600</text>
<text x="73.1" y="738.2" text-anchor="end">700</text>
<text x="73.1" y="782.0" text-anchor="end">800</text>
<text x="73.1" y="820.5" text-anchor="end">900</text>
<text x="73.1" y="855.0" text-anchor="end">1000</text>
<text x="83.2" y="887.0" text-anchor="middle">−60</text>
<text x="146.0" y="887.0" text-anchor="middle">−50</text>
<text x="208.9" y="887.0" text-anchor="middle">−40</text>
<text x="271.7" y="887.0" text-anchor="middle">−30</text>
<text x="334.5" y="887.0" text-anchor="middle">−20</text>
<text x="397.4" y="887.0" text-anchor="middle">−10</text>
<text x="460.2" y="887.0" text-anchor="middle">0</text>
<text x="523.0" y="887.0" text-anchor="middle">10</text>
<text x="585.9" y="887.0" text-anchor="middle">20</text>
<text x="648.7" y="887.0" text-anchor="middle">30</text>
<text x="711.5" y="887.0" text-anchor="middle">40</text>
<text x="335.5" y="907.7">Temperature (</text><text x="440.0" y="901.2" font-size="9.7" text-anchor="middle">∘</text><text x="444.7" y="907.7">C)</text>
<text transform="translate(29.4 482.2) rotate(-90)" text-anchor="middle">Pressure (hPa)</text>
</g>
<g font-family="DejaVu Sans, Liberation Sans, sans-serif" font-size="13.89" font-weight="bold" fill="#000">
<text x="10.6" y="21.0" xml:space="preserve" textLength="164.5" lengthAdjust="spacing">SkewTLogP Leicester</text>
<text x="10.6" y="37.0" xml:space="preserve" textLength="171.5" lengthAdjust="spacing">Lat: 52.61   Lon: -1.03</text>
<text x="10.6" y="53.0" xml:space="preserve" textLength="630.6" lengthAdjust="spacing">Simulation start time: 2025-06-06_00:00:00, Valid time: 2025-06-06T09:00:00.00</text>
<text x="10.6" y="69.9" xml:space="preserve" textLength="539.8" lengthAdjust="spacing">CAPE=117 j/kg, CIN=0 j/kg, LCL=923 hPa, LFC=931 hPa, EQ=600 hPa</text>
<text x="10.8" y="87.0">LFT IDX=3</text>
<text x="101.6" y="87.0">C, K IDX=17</text>
<text x="206.7" y="87.0">C, TOTAL TOTS=46</text>
<text x="364.4" y="87.0">C, SHWTR_IDX=6</text>
<text x="507.8" y="87.0">C</text>
<text x="96.9" y="80.6" font-size="9.7" font-weight="normal" text-anchor="middle">∘</text>
<text x="202.1" y="80.6" font-size="9.7" font-weight="normal" text-anchor="middle">∘</text>
<text x="358.8" y="80.6" font-size="9.7" font-weight="normal" text-anchor="middle">∘</text>
<text x="502.8" y="80.6" font-size="9.7" font-weight="normal" text-anchor="middle">∘</text>
</g>
<g font-family="DejaVu Sans, Liberation Sans, sans-serif" font-size="12.5" font-weight="bold" fill="#000" text-anchor="middle">
<text x="166.2" y="682.0">Wind Profile</text><text x="170.8" y="696.7">10m/s increment</text></g>
</svg>
</body></html>
